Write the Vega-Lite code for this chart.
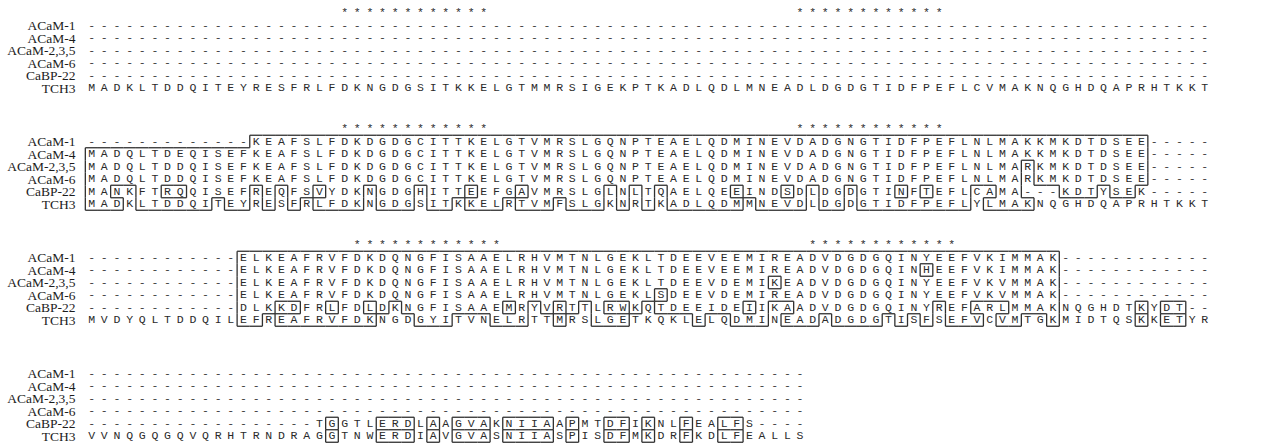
{
"$schema":"https://vega.github.io/schema/vega-lite/v6.json",
"autosize":{"type":"pad"},
"padding":{"left":4,"top":6,"right":0,"bottom":0},
"background":"white",
"bounds":"flush",
"data":{"values":[
{"b":1,"r":0,"c":21},{"b":1,"r":0,"c":22},{"b":1,"r":0,"c":23},{"b":1,"r":0,"c":24},{"b":1,"r":0,"c":25},{"b":1,"r":0,"c":26},{"b":1,"r":0,"c":27},{"b":1,"r":0,"c":28},{"b":1,"r":0,"c":29},{"b":1,"r":0,"c":30},{"b":1,"r":0,"c":31},{"b":1,"r":0,"c":32},
{"b":1,"r":0,"c":57},{"b":1,"r":0,"c":58},{"b":1,"r":0,"c":59},{"b":1,"r":0,"c":60},{"b":1,"r":0,"c":61},{"b":1,"r":0,"c":62},{"b":1,"r":0,"c":63},{"b":1,"r":0,"c":64},{"b":1,"r":0,"c":65},{"b":1,"r":0,"c":66},{"b":1,"r":0,"c":67},{"b":1,"r":0,"c":68},
{"b":1,"r":1,"c":1},{"b":1,"r":1,"c":2},{"b":1,"r":1,"c":3},{"b":1,"r":1,"c":4},{"b":1,"r":1,"c":5},{"b":1,"r":1,"c":6},{"b":1,"r":1,"c":7},{"b":1,"r":1,"c":8},{"b":1,"r":1,"c":9},{"b":1,"r":1,"c":10},
{"b":1,"r":1,"c":11},{"b":1,"r":1,"c":12},{"b":1,"r":1,"c":13},{"b":1,"r":1,"c":14},{"b":1,"r":1,"c":15},{"b":1,"r":1,"c":16},{"b":1,"r":1,"c":17},{"b":1,"r":1,"c":18},{"b":1,"r":1,"c":19},{"b":1,"r":1,"c":20},
{"b":1,"r":1,"c":21},{"b":1,"r":1,"c":22},{"b":1,"r":1,"c":23},{"b":1,"r":1,"c":24},{"b":1,"r":1,"c":25},{"b":1,"r":1,"c":26},{"b":1,"r":1,"c":27},{"b":1,"r":1,"c":28},{"b":1,"r":1,"c":29},{"b":1,"r":1,"c":30},
{"b":1,"r":1,"c":31},{"b":1,"r":1,"c":32},{"b":1,"r":1,"c":33},{"b":1,"r":1,"c":34},{"b":1,"r":1,"c":35},{"b":1,"r":1,"c":36},{"b":1,"r":1,"c":37},{"b":1,"r":1,"c":38},{"b":1,"r":1,"c":39},{"b":1,"r":1,"c":40},
{"b":1,"r":1,"c":41},{"b":1,"r":1,"c":42},{"b":1,"r":1,"c":43},{"b":1,"r":1,"c":44},{"b":1,"r":1,"c":45},{"b":1,"r":1,"c":46},{"b":1,"r":1,"c":47},{"b":1,"r":1,"c":48},{"b":1,"r":1,"c":49},{"b":1,"r":1,"c":50},
{"b":1,"r":1,"c":51},{"b":1,"r":1,"c":52},{"b":1,"r":1,"c":53},{"b":1,"r":1,"c":54},{"b":1,"r":1,"c":55},{"b":1,"r":1,"c":56},{"b":1,"r":1,"c":57},{"b":1,"r":1,"c":58},{"b":1,"r":1,"c":59},{"b":1,"r":1,"c":60},
{"b":1,"r":1,"c":61},{"b":1,"r":1,"c":62},{"b":1,"r":1,"c":63},{"b":1,"r":1,"c":64},{"b":1,"r":1,"c":65},{"b":1,"r":1,"c":66},{"b":1,"r":1,"c":67},{"b":1,"r":1,"c":68},{"b":1,"r":1,"c":69},{"b":1,"r":1,"c":70},
{"b":1,"r":1,"c":71},{"b":1,"r":1,"c":72},{"b":1,"r":1,"c":73},{"b":1,"r":1,"c":74},{"b":1,"r":1,"c":75},{"b":1,"r":1,"c":76},{"b":1,"r":1,"c":77},{"b":1,"r":1,"c":78},{"b":1,"r":1,"c":79},{"b":1,"r":1,"c":80},
{"b":1,"r":1,"c":81},{"b":1,"r":1,"c":82},{"b":1,"r":1,"c":83},{"b":1,"r":1,"c":84},{"b":1,"r":1,"c":85},{"b":1,"r":1,"c":86},{"b":1,"r":1,"c":87},{"b":1,"r":1,"c":88},{"b":1,"r":1,"c":89},
{"b":1,"r":2,"c":1},{"b":1,"r":2,"c":2},{"b":1,"r":2,"c":3},{"b":1,"r":2,"c":4},{"b":1,"r":2,"c":5},{"b":1,"r":2,"c":6},{"b":1,"r":2,"c":7},{"b":1,"r":2,"c":8},{"b":1,"r":2,"c":9},{"b":1,"r":2,"c":10},
{"b":1,"r":2,"c":11},{"b":1,"r":2,"c":12},{"b":1,"r":2,"c":13},{"b":1,"r":2,"c":14},{"b":1,"r":2,"c":15},{"b":1,"r":2,"c":16},{"b":1,"r":2,"c":17},{"b":1,"r":2,"c":18},{"b":1,"r":2,"c":19},{"b":1,"r":2,"c":20},
{"b":1,"r":2,"c":21},{"b":1,"r":2,"c":22},{"b":1,"r":2,"c":23},{"b":1,"r":2,"c":24},{"b":1,"r":2,"c":25},{"b":1,"r":2,"c":26},{"b":1,"r":2,"c":27},{"b":1,"r":2,"c":28},{"b":1,"r":2,"c":29},{"b":1,"r":2,"c":30},
{"b":1,"r":2,"c":31},{"b":1,"r":2,"c":32},{"b":1,"r":2,"c":33},{"b":1,"r":2,"c":34},{"b":1,"r":2,"c":35},{"b":1,"r":2,"c":36},{"b":1,"r":2,"c":37},{"b":1,"r":2,"c":38},{"b":1,"r":2,"c":39},{"b":1,"r":2,"c":40},
{"b":1,"r":2,"c":41},{"b":1,"r":2,"c":42},{"b":1,"r":2,"c":43},{"b":1,"r":2,"c":44},{"b":1,"r":2,"c":45},{"b":1,"r":2,"c":46},{"b":1,"r":2,"c":47},{"b":1,"r":2,"c":48},{"b":1,"r":2,"c":49},{"b":1,"r":2,"c":50},
{"b":1,"r":2,"c":51},{"b":1,"r":2,"c":52},{"b":1,"r":2,"c":53},{"b":1,"r":2,"c":54},{"b":1,"r":2,"c":55},{"b":1,"r":2,"c":56},{"b":1,"r":2,"c":57},{"b":1,"r":2,"c":58},{"b":1,"r":2,"c":59},{"b":1,"r":2,"c":60},
{"b":1,"r":2,"c":61},{"b":1,"r":2,"c":62},{"b":1,"r":2,"c":63},{"b":1,"r":2,"c":64},{"b":1,"r":2,"c":65},{"b":1,"r":2,"c":66},{"b":1,"r":2,"c":67},{"b":1,"r":2,"c":68},{"b":1,"r":2,"c":69},{"b":1,"r":2,"c":70},
{"b":1,"r":2,"c":71},{"b":1,"r":2,"c":72},{"b":1,"r":2,"c":73},{"b":1,"r":2,"c":74},{"b":1,"r":2,"c":75},{"b":1,"r":2,"c":76},{"b":1,"r":2,"c":77},{"b":1,"r":2,"c":78},{"b":1,"r":2,"c":79},{"b":1,"r":2,"c":80},
{"b":1,"r":2,"c":81},{"b":1,"r":2,"c":82},{"b":1,"r":2,"c":83},{"b":1,"r":2,"c":84},{"b":1,"r":2,"c":85},{"b":1,"r":2,"c":86},{"b":1,"r":2,"c":87},{"b":1,"r":2,"c":88},{"b":1,"r":2,"c":89},
{"b":1,"r":3,"c":1},{"b":1,"r":3,"c":2},{"b":1,"r":3,"c":3},{"b":1,"r":3,"c":4},{"b":1,"r":3,"c":5},{"b":1,"r":3,"c":6},{"b":1,"r":3,"c":7},{"b":1,"r":3,"c":8},{"b":1,"r":3,"c":9},{"b":1,"r":3,"c":10},
{"b":1,"r":3,"c":11},{"b":1,"r":3,"c":12},{"b":1,"r":3,"c":13},{"b":1,"r":3,"c":14},{"b":1,"r":3,"c":15},{"b":1,"r":3,"c":16},{"b":1,"r":3,"c":17},{"b":1,"r":3,"c":18},{"b":1,"r":3,"c":19},{"b":1,"r":3,"c":20},
{"b":1,"r":3,"c":21},{"b":1,"r":3,"c":22},{"b":1,"r":3,"c":23},{"b":1,"r":3,"c":24},{"b":1,"r":3,"c":25},{"b":1,"r":3,"c":26},{"b":1,"r":3,"c":27},{"b":1,"r":3,"c":28},{"b":1,"r":3,"c":29},{"b":1,"r":3,"c":30},
{"b":1,"r":3,"c":31},{"b":1,"r":3,"c":32},{"b":1,"r":3,"c":33},{"b":1,"r":3,"c":34},{"b":1,"r":3,"c":35},{"b":1,"r":3,"c":36},{"b":1,"r":3,"c":37},{"b":1,"r":3,"c":38},{"b":1,"r":3,"c":39},{"b":1,"r":3,"c":40},
{"b":1,"r":3,"c":41},{"b":1,"r":3,"c":42},{"b":1,"r":3,"c":43},{"b":1,"r":3,"c":44},{"b":1,"r":3,"c":45},{"b":1,"r":3,"c":46},{"b":1,"r":3,"c":47},{"b":1,"r":3,"c":48},{"b":1,"r":3,"c":49},{"b":1,"r":3,"c":50},
{"b":1,"r":3,"c":51},{"b":1,"r":3,"c":52},{"b":1,"r":3,"c":53},{"b":1,"r":3,"c":54},{"b":1,"r":3,"c":55},{"b":1,"r":3,"c":56},{"b":1,"r":3,"c":57},{"b":1,"r":3,"c":58},{"b":1,"r":3,"c":59},{"b":1,"r":3,"c":60},
{"b":1,"r":3,"c":61},{"b":1,"r":3,"c":62},{"b":1,"r":3,"c":63},{"b":1,"r":3,"c":64},{"b":1,"r":3,"c":65},{"b":1,"r":3,"c":66},{"b":1,"r":3,"c":67},{"b":1,"r":3,"c":68},{"b":1,"r":3,"c":69},{"b":1,"r":3,"c":70},
{"b":1,"r":3,"c":71},{"b":1,"r":3,"c":72},{"b":1,"r":3,"c":73},{"b":1,"r":3,"c":74},{"b":1,"r":3,"c":75},{"b":1,"r":3,"c":76},{"b":1,"r":3,"c":77},{"b":1,"r":3,"c":78},{"b":1,"r":3,"c":79},{"b":1,"r":3,"c":80},
{"b":1,"r":3,"c":81},{"b":1,"r":3,"c":82},{"b":1,"r":3,"c":83},{"b":1,"r":3,"c":84},{"b":1,"r":3,"c":85},{"b":1,"r":3,"c":86},{"b":1,"r":3,"c":87},{"b":1,"r":3,"c":88},{"b":1,"r":3,"c":89},
{"b":1,"r":4,"c":1},{"b":1,"r":4,"c":2},{"b":1,"r":4,"c":3},{"b":1,"r":4,"c":4},{"b":1,"r":4,"c":5},{"b":1,"r":4,"c":6},{"b":1,"r":4,"c":7},{"b":1,"r":4,"c":8},{"b":1,"r":4,"c":9},{"b":1,"r":4,"c":10},
{"b":1,"r":4,"c":11},{"b":1,"r":4,"c":12},{"b":1,"r":4,"c":13},{"b":1,"r":4,"c":14},{"b":1,"r":4,"c":15},{"b":1,"r":4,"c":16},{"b":1,"r":4,"c":17},{"b":1,"r":4,"c":18},{"b":1,"r":4,"c":19},{"b":1,"r":4,"c":20},
{"b":1,"r":4,"c":21},{"b":1,"r":4,"c":22},{"b":1,"r":4,"c":23},{"b":1,"r":4,"c":24},{"b":1,"r":4,"c":25},{"b":1,"r":4,"c":26},{"b":1,"r":4,"c":27},{"b":1,"r":4,"c":28},{"b":1,"r":4,"c":29},{"b":1,"r":4,"c":30},
{"b":1,"r":4,"c":31},{"b":1,"r":4,"c":32},{"b":1,"r":4,"c":33},{"b":1,"r":4,"c":34},{"b":1,"r":4,"c":35},{"b":1,"r":4,"c":36},{"b":1,"r":4,"c":37},{"b":1,"r":4,"c":38},{"b":1,"r":4,"c":39},{"b":1,"r":4,"c":40},
{"b":1,"r":4,"c":41},{"b":1,"r":4,"c":42},{"b":1,"r":4,"c":43},{"b":1,"r":4,"c":44},{"b":1,"r":4,"c":45},{"b":1,"r":4,"c":46},{"b":1,"r":4,"c":47},{"b":1,"r":4,"c":48},{"b":1,"r":4,"c":49},{"b":1,"r":4,"c":50},
{"b":1,"r":4,"c":51},{"b":1,"r":4,"c":52},{"b":1,"r":4,"c":53},{"b":1,"r":4,"c":54},{"b":1,"r":4,"c":55},{"b":1,"r":4,"c":56},{"b":1,"r":4,"c":57},{"b":1,"r":4,"c":58},{"b":1,"r":4,"c":59},{"b":1,"r":4,"c":60},
{"b":1,"r":4,"c":61},{"b":1,"r":4,"c":62},{"b":1,"r":4,"c":63},{"b":1,"r":4,"c":64},{"b":1,"r":4,"c":65},{"b":1,"r":4,"c":66},{"b":1,"r":4,"c":67},{"b":1,"r":4,"c":68},{"b":1,"r":4,"c":69},{"b":1,"r":4,"c":70},
{"b":1,"r":4,"c":71},{"b":1,"r":4,"c":72},{"b":1,"r":4,"c":73},{"b":1,"r":4,"c":74},{"b":1,"r":4,"c":75},{"b":1,"r":4,"c":76},{"b":1,"r":4,"c":77},{"b":1,"r":4,"c":78},{"b":1,"r":4,"c":79},{"b":1,"r":4,"c":80},
{"b":1,"r":4,"c":81},{"b":1,"r":4,"c":82},{"b":1,"r":4,"c":83},{"b":1,"r":4,"c":84},{"b":1,"r":4,"c":85},{"b":1,"r":4,"c":86},{"b":1,"r":4,"c":87},{"b":1,"r":4,"c":88},{"b":1,"r":4,"c":89},
{"b":1,"r":5,"c":1},{"b":1,"r":5,"c":2},{"b":1,"r":5,"c":3},{"b":1,"r":5,"c":4},{"b":1,"r":5,"c":5},{"b":1,"r":5,"c":6},{"b":1,"r":5,"c":7},{"b":1,"r":5,"c":8},{"b":1,"r":5,"c":9},{"b":1,"r":5,"c":10},
{"b":1,"r":5,"c":11},{"b":1,"r":5,"c":12},{"b":1,"r":5,"c":13},{"b":1,"r":5,"c":14},{"b":1,"r":5,"c":15},{"b":1,"r":5,"c":16},{"b":1,"r":5,"c":17},{"b":1,"r":5,"c":18},{"b":1,"r":5,"c":19},{"b":1,"r":5,"c":20},
{"b":1,"r":5,"c":21},{"b":1,"r":5,"c":22},{"b":1,"r":5,"c":23},{"b":1,"r":5,"c":24},{"b":1,"r":5,"c":25},{"b":1,"r":5,"c":26},{"b":1,"r":5,"c":27},{"b":1,"r":5,"c":28},{"b":1,"r":5,"c":29},{"b":1,"r":5,"c":30},
{"b":1,"r":5,"c":31},{"b":1,"r":5,"c":32},{"b":1,"r":5,"c":33},{"b":1,"r":5,"c":34},{"b":1,"r":5,"c":35},{"b":1,"r":5,"c":36},{"b":1,"r":5,"c":37},{"b":1,"r":5,"c":38},{"b":1,"r":5,"c":39},{"b":1,"r":5,"c":40},
{"b":1,"r":5,"c":41},{"b":1,"r":5,"c":42},{"b":1,"r":5,"c":43},{"b":1,"r":5,"c":44},{"b":1,"r":5,"c":45},{"b":1,"r":5,"c":46},{"b":1,"r":5,"c":47},{"b":1,"r":5,"c":48},{"b":1,"r":5,"c":49},{"b":1,"r":5,"c":50},
{"b":1,"r":5,"c":51},{"b":1,"r":5,"c":52},{"b":1,"r":5,"c":53},{"b":1,"r":5,"c":54},{"b":1,"r":5,"c":55},{"b":1,"r":5,"c":56},{"b":1,"r":5,"c":57},{"b":1,"r":5,"c":58},{"b":1,"r":5,"c":59},{"b":1,"r":5,"c":60},
{"b":1,"r":5,"c":61},{"b":1,"r":5,"c":62},{"b":1,"r":5,"c":63},{"b":1,"r":5,"c":64},{"b":1,"r":5,"c":65},{"b":1,"r":5,"c":66},{"b":1,"r":5,"c":67},{"b":1,"r":5,"c":68},{"b":1,"r":5,"c":69},{"b":1,"r":5,"c":70},
{"b":1,"r":5,"c":71},{"b":1,"r":5,"c":72},{"b":1,"r":5,"c":73},{"b":1,"r":5,"c":74},{"b":1,"r":5,"c":75},{"b":1,"r":5,"c":76},{"b":1,"r":5,"c":77},{"b":1,"r":5,"c":78},{"b":1,"r":5,"c":79},{"b":1,"r":5,"c":80},
{"b":1,"r":5,"c":81},{"b":1,"r":5,"c":82},{"b":1,"r":5,"c":83},{"b":1,"r":5,"c":84},{"b":1,"r":5,"c":85},{"b":1,"r":5,"c":86},{"b":1,"r":5,"c":87},{"b":1,"r":5,"c":88},{"b":1,"r":5,"c":89},
{"b":1,"r":6,"c":1,"s":"M"},{"b":1,"r":6,"c":2,"s":"A"},{"b":1,"r":6,"c":3,"s":"D"},{"b":1,"r":6,"c":4,"s":"K"},{"b":1,"r":6,"c":5,"s":"L"},{"b":1,"r":6,"c":6,"s":"T"},{"b":1,"r":6,"c":7,"s":"D"},{"b":1,"r":6,"c":8,"s":"D"},{"b":1,"r":6,"c":9,"s":"Q"},{"b":1,"r":6,"c":10,"s":"I"},
{"b":1,"r":6,"c":11,"s":"T"},{"b":1,"r":6,"c":12,"s":"E"},{"b":1,"r":6,"c":13,"s":"Y"},{"b":1,"r":6,"c":14,"s":"R"},{"b":1,"r":6,"c":15,"s":"E"},{"b":1,"r":6,"c":16,"s":"S"},{"b":1,"r":6,"c":17,"s":"F"},{"b":1,"r":6,"c":18,"s":"R"},{"b":1,"r":6,"c":19,"s":"L"},{"b":1,"r":6,"c":20,"s":"F"},
{"b":1,"r":6,"c":21,"s":"D"},{"b":1,"r":6,"c":22,"s":"K"},{"b":1,"r":6,"c":23,"s":"N"},{"b":1,"r":6,"c":24,"s":"G"},{"b":1,"r":6,"c":25,"s":"D"},{"b":1,"r":6,"c":26,"s":"G"},{"b":1,"r":6,"c":27,"s":"S"},{"b":1,"r":6,"c":28,"s":"I"},{"b":1,"r":6,"c":29,"s":"T"},{"b":1,"r":6,"c":30,"s":"K"},
{"b":1,"r":6,"c":31,"s":"K"},{"b":1,"r":6,"c":32,"s":"E"},{"b":1,"r":6,"c":33,"s":"L"},{"b":1,"r":6,"c":34,"s":"G"},{"b":1,"r":6,"c":35,"s":"T"},{"b":1,"r":6,"c":36,"s":"M"},{"b":1,"r":6,"c":37,"s":"M"},{"b":1,"r":6,"c":38,"s":"R"},{"b":1,"r":6,"c":39,"s":"S"},{"b":1,"r":6,"c":40,"s":"I"},
{"b":1,"r":6,"c":41,"s":"G"},{"b":1,"r":6,"c":42,"s":"E"},{"b":1,"r":6,"c":43,"s":"K"},{"b":1,"r":6,"c":44,"s":"P"},{"b":1,"r":6,"c":45,"s":"T"},{"b":1,"r":6,"c":46,"s":"K"},{"b":1,"r":6,"c":47,"s":"A"},{"b":1,"r":6,"c":48,"s":"D"},{"b":1,"r":6,"c":49,"s":"L"},{"b":1,"r":6,"c":50,"s":"Q"},
{"b":1,"r":6,"c":51,"s":"D"},{"b":1,"r":6,"c":52,"s":"L"},{"b":1,"r":6,"c":53,"s":"M"},{"b":1,"r":6,"c":54,"s":"N"},{"b":1,"r":6,"c":55,"s":"E"},{"b":1,"r":6,"c":56,"s":"A"},{"b":1,"r":6,"c":57,"s":"D"},{"b":1,"r":6,"c":58,"s":"L"},{"b":1,"r":6,"c":59,"s":"D"},{"b":1,"r":6,"c":60,"s":"G"},
{"b":1,"r":6,"c":61,"s":"D"},{"b":1,"r":6,"c":62,"s":"G"},{"b":1,"r":6,"c":63,"s":"T"},{"b":1,"r":6,"c":64,"s":"I"},{"b":1,"r":6,"c":65,"s":"D"},{"b":1,"r":6,"c":66,"s":"F"},{"b":1,"r":6,"c":67,"s":"P"},{"b":1,"r":6,"c":68,"s":"E"},{"b":1,"r":6,"c":69,"s":"F"},{"b":1,"r":6,"c":70,"s":"L"},
{"b":1,"r":6,"c":71,"s":"C"},{"b":1,"r":6,"c":72,"s":"V"},{"b":1,"r":6,"c":73,"s":"M"},{"b":1,"r":6,"c":74,"s":"A"},{"b":1,"r":6,"c":75,"s":"K"},{"b":1,"r":6,"c":76,"s":"N"},{"b":1,"r":6,"c":77,"s":"Q"},{"b":1,"r":6,"c":78,"s":"G"},{"b":1,"r":6,"c":79,"s":"H"},{"b":1,"r":6,"c":80,"s":"D"},
{"b":1,"r":6,"c":81,"s":"Q"},{"b":1,"r":6,"c":82,"s":"A"},{"b":1,"r":6,"c":83,"s":"P"},{"b":1,"r":6,"c":84,"s":"R"},{"b":1,"r":6,"c":85,"s":"H"},{"b":1,"r":6,"c":86,"s":"T"},{"b":1,"r":6,"c":87,"s":"K"},{"b":1,"r":6,"c":88,"s":"K"},{"b":1,"r":6,"c":89,"s":"T"},
{"b":1,"r":1,"n":"0"},{"b":1,"r":2,"n":"0"},{"b":1,"r":3,"n":"0"},{"b":1,"r":4,"n":"0"},{"b":1,"r":5,"n":"0"},{"b":1,"r":6,"n":"89"},

{"b":2,"r":0,"c":21},{"b":2,"r":0,"c":22},{"b":2,"r":0,"c":23},{"b":2,"r":0,"c":24},{"b":2,"r":0,"c":25},{"b":2,"r":0,"c":26},{"b":2,"r":0,"c":27},{"b":2,"r":0,"c":28},{"b":2,"r":0,"c":29},{"b":2,"r":0,"c":30},{"b":2,"r":0,"c":31},{"b":2,"r":0,"c":32},
{"b":2,"r":0,"c":57},{"b":2,"r":0,"c":58},{"b":2,"r":0,"c":59},{"b":2,"r":0,"c":60},{"b":2,"r":0,"c":61},{"b":2,"r":0,"c":62},{"b":2,"r":0,"c":63},{"b":2,"r":0,"c":64},{"b":2,"r":0,"c":65},{"b":2,"r":0,"c":66},{"b":2,"r":0,"c":67},{"b":2,"r":0,"c":68},
{"b":2,"r":1,"c":1},{"b":2,"r":1,"c":2},{"b":2,"r":1,"c":3},{"b":2,"r":1,"c":4},{"b":2,"r":1,"c":5},{"b":2,"r":1,"c":6},{"b":2,"r":1,"c":7},{"b":2,"r":1,"c":8},{"b":2,"r":1,"c":9},{"b":2,"r":1,"c":10},{"b":2,"r":1,"c":11},{"b":2,"r":1,"c":12},{"b":2,"r":1,"c":13},
{"b":2,"r":1,"c":14,"s":"K","g":1},{"b":2,"r":1,"c":15,"s":"E","g":1},{"b":2,"r":1,"c":16,"s":"A","g":1},{"b":2,"r":1,"c":17,"s":"F","g":1},{"b":2,"r":1,"c":18,"s":"S","g":1},{"b":2,"r":1,"c":19,"s":"L","g":1},{"b":2,"r":1,"c":20,"s":"F","g":1},
{"b":2,"r":1,"c":21,"s":"D","g":1},{"b":2,"r":1,"c":22,"s":"K","g":1},{"b":2,"r":1,"c":23,"s":"D","g":1},{"b":2,"r":1,"c":24,"s":"G","g":1},{"b":2,"r":1,"c":25,"s":"D","g":1},{"b":2,"r":1,"c":26,"s":"G","g":1},{"b":2,"r":1,"c":27,"s":"C","g":1},{"b":2,"r":1,"c":28,"s":"I","g":1},{"b":2,"r":1,"c":29,"s":"T","g":1},{"b":2,"r":1,"c":30,"s":"T","g":1},
{"b":2,"r":1,"c":31,"s":"K","g":1},{"b":2,"r":1,"c":32,"s":"E","g":1},{"b":2,"r":1,"c":33,"s":"L","g":1},{"b":2,"r":1,"c":34,"s":"G","g":1},{"b":2,"r":1,"c":35,"s":"T","g":1},{"b":2,"r":1,"c":36,"s":"V","g":1},{"b":2,"r":1,"c":37,"s":"M","g":1},{"b":2,"r":1,"c":38,"s":"R","g":1},{"b":2,"r":1,"c":39,"s":"S","g":1},{"b":2,"r":1,"c":40,"s":"L","g":1},
{"b":2,"r":1,"c":41,"s":"G","g":1},{"b":2,"r":1,"c":42,"s":"Q","g":1},{"b":2,"r":1,"c":43,"s":"N","g":1},{"b":2,"r":1,"c":44,"s":"P","g":1},{"b":2,"r":1,"c":45,"s":"T","g":1},{"b":2,"r":1,"c":46,"s":"E","g":1},{"b":2,"r":1,"c":47,"s":"A","g":1},{"b":2,"r":1,"c":48,"s":"E","g":1},{"b":2,"r":1,"c":49,"s":"L","g":1},{"b":2,"r":1,"c":50,"s":"Q","g":1},
{"b":2,"r":1,"c":51,"s":"D","g":1},{"b":2,"r":1,"c":52,"s":"M","g":1},{"b":2,"r":1,"c":53,"s":"I","g":1},{"b":2,"r":1,"c":54,"s":"N","g":1},{"b":2,"r":1,"c":55,"s":"E","g":1},{"b":2,"r":1,"c":56,"s":"V","g":1},{"b":2,"r":1,"c":57,"s":"D","g":1},{"b":2,"r":1,"c":58,"s":"A","g":1},{"b":2,"r":1,"c":59,"s":"D","g":1},{"b":2,"r":1,"c":60,"s":"G","g":1},
{"b":2,"r":1,"c":61,"s":"N","g":1},{"b":2,"r":1,"c":62,"s":"G","g":1},{"b":2,"r":1,"c":63,"s":"T","g":1},{"b":2,"r":1,"c":64,"s":"I","g":1},{"b":2,"r":1,"c":65,"s":"D","g":1},{"b":2,"r":1,"c":66,"s":"F","g":1},{"b":2,"r":1,"c":67,"s":"P","g":1},{"b":2,"r":1,"c":68,"s":"E","g":1},{"b":2,"r":1,"c":69,"s":"F","g":1},{"b":2,"r":1,"c":70,"s":"L","g":1},
{"b":2,"r":1,"c":71,"s":"N","g":1},{"b":2,"r":1,"c":72,"s":"L","g":1},{"b":2,"r":1,"c":73,"s":"M","g":1},{"b":2,"r":1,"c":74,"s":"A","g":1},{"b":2,"r":1,"c":75,"s":"K","g":1},{"b":2,"r":1,"c":76,"s":"K","g":1},{"b":2,"r":1,"c":77,"s":"M","g":1},{"b":2,"r":1,"c":78,"s":"K","g":1},{"b":2,"r":1,"c":79,"s":"D","g":1},{"b":2,"r":1,"c":80,"s":"T","g":1},
{"b":2,"r":1,"c":81,"s":"D","g":1},{"b":2,"r":1,"c":82,"s":"S","g":1},{"b":2,"r":1,"c":83,"s":"E","g":1},{"b":2,"r":1,"c":84,"s":"E","g":1},{"b":2,"r":1,"c":85},{"b":2,"r":1,"c":86},{"b":2,"r":1,"c":87},{"b":2,"r":1,"c":88},{"b":2,"r":1,"c":89},
{"b":2,"r":2,"c":1,"s":"M","g":1},{"b":2,"r":2,"c":2,"s":"A","g":1},{"b":2,"r":2,"c":3,"s":"D","g":1},{"b":2,"r":2,"c":4,"s":"Q","g":1},{"b":2,"r":2,"c":5,"s":"L","g":1},{"b":2,"r":2,"c":6,"s":"T","g":1},{"b":2,"r":2,"c":7,"s":"D","g":1},{"b":2,"r":2,"c":8,"s":"E","g":1},{"b":2,"r":2,"c":9,"s":"Q","g":1},{"b":2,"r":2,"c":10,"s":"I","g":1},
{"b":2,"r":2,"c":11,"s":"S","g":1},{"b":2,"r":2,"c":12,"s":"E","g":1},{"b":2,"r":2,"c":13,"s":"F","g":1},{"b":2,"r":2,"c":14,"s":"K","g":1},{"b":2,"r":2,"c":15,"s":"E","g":1},{"b":2,"r":2,"c":16,"s":"A","g":1},{"b":2,"r":2,"c":17,"s":"F","g":1},{"b":2,"r":2,"c":18,"s":"S","g":1},{"b":2,"r":2,"c":19,"s":"L","g":1},{"b":2,"r":2,"c":20,"s":"F","g":1},
{"b":2,"r":2,"c":21,"s":"D","g":1},{"b":2,"r":2,"c":22,"s":"K","g":1},{"b":2,"r":2,"c":23,"s":"D","g":1},{"b":2,"r":2,"c":24,"s":"G","g":1},{"b":2,"r":2,"c":25,"s":"D","g":1},{"b":2,"r":2,"c":26,"s":"G","g":1},{"b":2,"r":2,"c":27,"s":"C","g":1},{"b":2,"r":2,"c":28,"s":"I","g":1},{"b":2,"r":2,"c":29,"s":"T","g":1},{"b":2,"r":2,"c":30,"s":"T","g":1},
{"b":2,"r":2,"c":31,"s":"K","g":1},{"b":2,"r":2,"c":32,"s":"E","g":1},{"b":2,"r":2,"c":33,"s":"L","g":1},{"b":2,"r":2,"c":34,"s":"G","g":1},{"b":2,"r":2,"c":35,"s":"T","g":1},{"b":2,"r":2,"c":36,"s":"V","g":1},{"b":2,"r":2,"c":37,"s":"M","g":1},{"b":2,"r":2,"c":38,"s":"R","g":1},{"b":2,"r":2,"c":39,"s":"S","g":1},{"b":2,"r":2,"c":40,"s":"L","g":1},
{"b":2,"r":2,"c":41,"s":"G","g":1},{"b":2,"r":2,"c":42,"s":"Q","g":1},{"b":2,"r":2,"c":43,"s":"N","g":1},{"b":2,"r":2,"c":44,"s":"P","g":1},{"b":2,"r":2,"c":45,"s":"T","g":1},{"b":2,"r":2,"c":46,"s":"E","g":1},{"b":2,"r":2,"c":47,"s":"A","g":1},{"b":2,"r":2,"c":48,"s":"E","g":1},{"b":2,"r":2,"c":49,"s":"L","g":1},{"b":2,"r":2,"c":50,"s":"Q","g":1},
{"b":2,"r":2,"c":51,"s":"D","g":1},{"b":2,"r":2,"c":52,"s":"M","g":1},{"b":2,"r":2,"c":53,"s":"I","g":1},{"b":2,"r":2,"c":54,"s":"N","g":1},{"b":2,"r":2,"c":55,"s":"E","g":1},{"b":2,"r":2,"c":56,"s":"V","g":1},{"b":2,"r":2,"c":57,"s":"D","g":1},{"b":2,"r":2,"c":58,"s":"A","g":1},{"b":2,"r":2,"c":59,"s":"D","g":1},{"b":2,"r":2,"c":60,"s":"G","g":1},
{"b":2,"r":2,"c":61,"s":"N","g":1},{"b":2,"r":2,"c":62,"s":"G","g":1},{"b":2,"r":2,"c":63,"s":"T","g":1},{"b":2,"r":2,"c":64,"s":"I","g":1},{"b":2,"r":2,"c":65,"s":"D","g":1},{"b":2,"r":2,"c":66,"s":"F","g":1},{"b":2,"r":2,"c":67,"s":"P","g":1},{"b":2,"r":2,"c":68,"s":"E","g":1},{"b":2,"r":2,"c":69,"s":"F","g":1},{"b":2,"r":2,"c":70,"s":"L","g":1},
{"b":2,"r":2,"c":71,"s":"N","g":1},{"b":2,"r":2,"c":72,"s":"L","g":1},{"b":2,"r":2,"c":73,"s":"M","g":1},{"b":2,"r":2,"c":74,"s":"A","g":1},{"b":2,"r":2,"c":75,"s":"K","g":1},{"b":2,"r":2,"c":76,"s":"K","g":1},{"b":2,"r":2,"c":77,"s":"M","g":1},{"b":2,"r":2,"c":78,"s":"K","g":1},{"b":2,"r":2,"c":79,"s":"D","g":1},{"b":2,"r":2,"c":80,"s":"T","g":1},
{"b":2,"r":2,"c":81,"s":"D","g":1},{"b":2,"r":2,"c":82,"s":"S","g":1},{"b":2,"r":2,"c":83,"s":"E","g":1},{"b":2,"r":2,"c":84,"s":"E","g":1},{"b":2,"r":2,"c":85},{"b":2,"r":2,"c":86},{"b":2,"r":2,"c":87},{"b":2,"r":2,"c":88},{"b":2,"r":2,"c":89},
{"b":2,"r":3,"c":1,"s":"M","g":1},{"b":2,"r":3,"c":2,"s":"A","g":1},{"b":2,"r":3,"c":3,"s":"D","g":1},{"b":2,"r":3,"c":4,"s":"Q","g":1},{"b":2,"r":3,"c":5,"s":"L","g":1},{"b":2,"r":3,"c":6,"s":"T","g":1},{"b":2,"r":3,"c":7,"s":"D","g":1},{"b":2,"r":3,"c":8,"s":"D","g":1},{"b":2,"r":3,"c":9,"s":"Q","g":1},{"b":2,"r":3,"c":10,"s":"I","g":1},
{"b":2,"r":3,"c":11,"s":"S","g":1},{"b":2,"r":3,"c":12,"s":"E","g":1},{"b":2,"r":3,"c":13,"s":"F","g":1},{"b":2,"r":3,"c":14,"s":"K","g":1},{"b":2,"r":3,"c":15,"s":"E","g":1},{"b":2,"r":3,"c":16,"s":"A","g":1},{"b":2,"r":3,"c":17,"s":"F","g":1},{"b":2,"r":3,"c":18,"s":"S","g":1},{"b":2,"r":3,"c":19,"s":"L","g":1},{"b":2,"r":3,"c":20,"s":"F","g":1},
{"b":2,"r":3,"c":21,"s":"D","g":1},{"b":2,"r":3,"c":22,"s":"K","g":1},{"b":2,"r":3,"c":23,"s":"D","g":1},{"b":2,"r":3,"c":24,"s":"G","g":1},{"b":2,"r":3,"c":25,"s":"D","g":1},{"b":2,"r":3,"c":26,"s":"G","g":1},{"b":2,"r":3,"c":27,"s":"C","g":1},{"b":2,"r":3,"c":28,"s":"I","g":1},{"b":2,"r":3,"c":29,"s":"T","g":1},{"b":2,"r":3,"c":30,"s":"T","g":1},
{"b":2,"r":3,"c":31,"s":"K","g":1},{"b":2,"r":3,"c":32,"s":"E","g":1},{"b":2,"r":3,"c":33,"s":"L","g":1},{"b":2,"r":3,"c":34,"s":"G","g":1},{"b":2,"r":3,"c":35,"s":"T","g":1},{"b":2,"r":3,"c":36,"s":"V","g":1},{"b":2,"r":3,"c":37,"s":"M","g":1},{"b":2,"r":3,"c":38,"s":"R","g":1},{"b":2,"r":3,"c":39,"s":"S","g":1},{"b":2,"r":3,"c":40,"s":"L","g":1},
{"b":2,"r":3,"c":41,"s":"G","g":1},{"b":2,"r":3,"c":42,"s":"Q","g":1},{"b":2,"r":3,"c":43,"s":"N","g":1},{"b":2,"r":3,"c":44,"s":"P","g":1},{"b":2,"r":3,"c":45,"s":"T","g":1},{"b":2,"r":3,"c":46,"s":"E","g":1},{"b":2,"r":3,"c":47,"s":"A","g":1},{"b":2,"r":3,"c":48,"s":"E","g":1},{"b":2,"r":3,"c":49,"s":"L","g":1},{"b":2,"r":3,"c":50,"s":"Q","g":1},
{"b":2,"r":3,"c":51,"s":"D","g":1},{"b":2,"r":3,"c":52,"s":"M","g":1},{"b":2,"r":3,"c":53,"s":"I","g":1},{"b":2,"r":3,"c":54,"s":"N","g":1},{"b":2,"r":3,"c":55,"s":"E","g":1},{"b":2,"r":3,"c":56,"s":"V","g":1},{"b":2,"r":3,"c":57,"s":"D","g":1},{"b":2,"r":3,"c":58,"s":"A","g":1},{"b":2,"r":3,"c":59,"s":"D","g":1},{"b":2,"r":3,"c":60,"s":"G","g":1},
{"b":2,"r":3,"c":61,"s":"N","g":1},{"b":2,"r":3,"c":62,"s":"G","g":1},{"b":2,"r":3,"c":63,"s":"T","g":1},{"b":2,"r":3,"c":64,"s":"I","g":1},{"b":2,"r":3,"c":65,"s":"D","g":1},{"b":2,"r":3,"c":66,"s":"F","g":1},{"b":2,"r":3,"c":67,"s":"P","g":1},{"b":2,"r":3,"c":68,"s":"E","g":1},{"b":2,"r":3,"c":69,"s":"F","g":1},{"b":2,"r":3,"c":70,"s":"L","g":1},
{"b":2,"r":3,"c":71,"s":"N","g":1},{"b":2,"r":3,"c":72,"s":"L","g":1},{"b":2,"r":3,"c":73,"s":"M","g":1},{"b":2,"r":3,"c":74,"s":"A","g":1},{"b":2,"r":3,"c":75,"s":"R"},{"b":2,"r":3,"c":76,"s":"K","g":1},{"b":2,"r":3,"c":77,"s":"M","g":1},{"b":2,"r":3,"c":78,"s":"K","g":1},{"b":2,"r":3,"c":79,"s":"D","g":1},{"b":2,"r":3,"c":80,"s":"T","g":1},
{"b":2,"r":3,"c":81,"s":"D","g":1},{"b":2,"r":3,"c":82,"s":"S","g":1},{"b":2,"r":3,"c":83,"s":"E","g":1},{"b":2,"r":3,"c":84,"s":"E","g":1},{"b":2,"r":3,"c":85},{"b":2,"r":3,"c":86},{"b":2,"r":3,"c":87},{"b":2,"r":3,"c":88},{"b":2,"r":3,"c":89},
{"b":2,"r":4,"c":1,"s":"M","g":1},{"b":2,"r":4,"c":2,"s":"A","g":1},{"b":2,"r":4,"c":3,"s":"D","g":1},{"b":2,"r":4,"c":4,"s":"Q","g":1},{"b":2,"r":4,"c":5,"s":"L","g":1},{"b":2,"r":4,"c":6,"s":"T","g":1},{"b":2,"r":4,"c":7,"s":"D","g":1},{"b":2,"r":4,"c":8,"s":"D","g":1},{"b":2,"r":4,"c":9,"s":"Q","g":1},{"b":2,"r":4,"c":10,"s":"I","g":1},
{"b":2,"r":4,"c":11,"s":"S","g":1},{"b":2,"r":4,"c":12,"s":"E","g":1},{"b":2,"r":4,"c":13,"s":"F","g":1},{"b":2,"r":4,"c":14,"s":"K","g":1},{"b":2,"r":4,"c":15,"s":"E","g":1},{"b":2,"r":4,"c":16,"s":"A","g":1},{"b":2,"r":4,"c":17,"s":"F","g":1},{"b":2,"r":4,"c":18,"s":"S","g":1},{"b":2,"r":4,"c":19,"s":"L","g":1},{"b":2,"r":4,"c":20,"s":"F","g":1},
{"b":2,"r":4,"c":21,"s":"D","g":1},{"b":2,"r":4,"c":22,"s":"K","g":1},{"b":2,"r":4,"c":23,"s":"D","g":1},{"b":2,"r":4,"c":24,"s":"G","g":1},{"b":2,"r":4,"c":25,"s":"D","g":1},{"b":2,"r":4,"c":26,"s":"G","g":1},{"b":2,"r":4,"c":27,"s":"C","g":1},{"b":2,"r":4,"c":28,"s":"I","g":1},{"b":2,"r":4,"c":29,"s":"T","g":1},{"b":2,"r":4,"c":30,"s":"T","g":1},
{"b":2,"r":4,"c":31,"s":"K","g":1},{"b":2,"r":4,"c":32,"s":"E","g":1},{"b":2,"r":4,"c":33,"s":"L","g":1},{"b":2,"r":4,"c":34,"s":"G","g":1},{"b":2,"r":4,"c":35,"s":"T","g":1},{"b":2,"r":4,"c":36,"s":"V","g":1},{"b":2,"r":4,"c":37,"s":"M","g":1},{"b":2,"r":4,"c":38,"s":"R","g":1},{"b":2,"r":4,"c":39,"s":"S","g":1},{"b":2,"r":4,"c":40,"s":"L","g":1},
{"b":2,"r":4,"c":41,"s":"G","g":1},{"b":2,"r":4,"c":42,"s":"Q","g":1},{"b":2,"r":4,"c":43,"s":"N","g":1},{"b":2,"r":4,"c":44,"s":"P","g":1},{"b":2,"r":4,"c":45,"s":"T","g":1},{"b":2,"r":4,"c":46,"s":"E","g":1},{"b":2,"r":4,"c":47,"s":"A","g":1},{"b":2,"r":4,"c":48,"s":"E","g":1},{"b":2,"r":4,"c":49,"s":"L","g":1},{"b":2,"r":4,"c":50,"s":"Q","g":1},
{"b":2,"r":4,"c":51,"s":"D","g":1},{"b":2,"r":4,"c":52,"s":"M","g":1},{"b":2,"r":4,"c":53,"s":"I","g":1},{"b":2,"r":4,"c":54,"s":"N","g":1},{"b":2,"r":4,"c":55,"s":"E","g":1},{"b":2,"r":4,"c":56,"s":"V","g":1},{"b":2,"r":4,"c":57,"s":"D","g":1},{"b":2,"r":4,"c":58,"s":"A","g":1},{"b":2,"r":4,"c":59,"s":"D","g":1},{"b":2,"r":4,"c":60,"s":"G","g":1},
{"b":2,"r":4,"c":61,"s":"N","g":1},{"b":2,"r":4,"c":62,"s":"G","g":1},{"b":2,"r":4,"c":63,"s":"T","g":1},{"b":2,"r":4,"c":64,"s":"I","g":1},{"b":2,"r":4,"c":65,"s":"D","g":1},{"b":2,"r":4,"c":66,"s":"F","g":1},{"b":2,"r":4,"c":67,"s":"P","g":1},{"b":2,"r":4,"c":68,"s":"E","g":1},{"b":2,"r":4,"c":69,"s":"F","g":1},{"b":2,"r":4,"c":70,"s":"L","g":1},
{"b":2,"r":4,"c":71,"s":"N","g":1},{"b":2,"r":4,"c":72,"s":"L","g":1},{"b":2,"r":4,"c":73,"s":"M","g":1},{"b":2,"r":4,"c":74,"s":"A","g":1},{"b":2,"r":4,"c":75,"s":"R"},{"b":2,"r":4,"c":76,"s":"K","g":1},{"b":2,"r":4,"c":77,"s":"M","g":1},{"b":2,"r":4,"c":78,"s":"K","g":1},{"b":2,"r":4,"c":79,"s":"D","g":1},{"b":2,"r":4,"c":80,"s":"T","g":1},
{"b":2,"r":4,"c":81,"s":"D","g":1},{"b":2,"r":4,"c":82,"s":"S","g":1},{"b":2,"r":4,"c":83,"s":"E","g":1},{"b":2,"r":4,"c":84,"s":"E","g":1},{"b":2,"r":4,"c":85},{"b":2,"r":4,"c":86},{"b":2,"r":4,"c":87},{"b":2,"r":4,"c":88},{"b":2,"r":4,"c":89},
{"b":2,"r":5,"c":1,"s":"M","g":1},{"b":2,"r":5,"c":2,"s":"A","g":1},{"b":2,"r":5,"c":3,"s":"N"},{"b":2,"r":5,"c":4,"s":"K"},{"b":2,"r":5,"c":5,"s":"F","g":1},{"b":2,"r":5,"c":6,"s":"T","g":1},{"b":2,"r":5,"c":7,"s":"R"},{"b":2,"r":5,"c":8,"s":"Q"},{"b":2,"r":5,"c":9,"s":"Q","g":1},{"b":2,"r":5,"c":10,"s":"I","g":1},
{"b":2,"r":5,"c":11,"s":"S","g":1},{"b":2,"r":5,"c":12,"s":"E","g":1},{"b":2,"r":5,"c":13,"s":"F","g":1},{"b":2,"r":5,"c":14,"s":"R"},{"b":2,"r":5,"c":15,"s":"E","g":1},{"b":2,"r":5,"c":16,"s":"Q"},{"b":2,"r":5,"c":17,"s":"F","g":1},{"b":2,"r":5,"c":18,"s":"S","g":1},{"b":2,"r":5,"c":19,"s":"V"},{"b":2,"r":5,"c":20,"s":"Y","g":1},
{"b":2,"r":5,"c":21,"s":"D","g":1},{"b":2,"r":5,"c":22,"s":"K","g":1},{"b":2,"r":5,"c":23,"s":"N"},{"b":2,"r":5,"c":24,"s":"G","g":1},{"b":2,"r":5,"c":25,"s":"D","g":1},{"b":2,"r":5,"c":26,"s":"G","g":1},{"b":2,"r":5,"c":27,"s":"H"},{"b":2,"r":5,"c":28,"s":"I","g":1},{"b":2,"r":5,"c":29,"s":"T","g":1},{"b":2,"r":5,"c":30,"s":"T","g":1},
{"b":2,"r":5,"c":31,"s":"E"},{"b":2,"r":5,"c":32,"s":"E","g":1},{"b":2,"r":5,"c":33,"s":"F","g":1},{"b":2,"r":5,"c":34,"s":"G","g":1},{"b":2,"r":5,"c":35,"s":"A"},{"b":2,"r":5,"c":36,"s":"V","g":1},{"b":2,"r":5,"c":37,"s":"M","g":1},{"b":2,"r":5,"c":38,"s":"R","g":1},{"b":2,"r":5,"c":39,"s":"S","g":1},{"b":2,"r":5,"c":40,"s":"L","g":1},
{"b":2,"r":5,"c":41,"s":"G","g":1},{"b":2,"r":5,"c":42,"s":"L"},{"b":2,"r":5,"c":43,"s":"N","g":1},{"b":2,"r":5,"c":44,"s":"L"},{"b":2,"r":5,"c":45,"s":"T","g":1},{"b":2,"r":5,"c":46,"s":"Q"},{"b":2,"r":5,"c":47,"s":"A","g":1},{"b":2,"r":5,"c":48,"s":"E","g":1},{"b":2,"r":5,"c":49,"s":"L","g":1},{"b":2,"r":5,"c":50,"s":"Q","g":1},
{"b":2,"r":5,"c":51,"s":"E","g":1},{"b":2,"r":5,"c":52,"s":"E"},{"b":2,"r":5,"c":53,"s":"I","g":1},{"b":2,"r":5,"c":54,"s":"N","g":1},{"b":2,"r":5,"c":55,"s":"D","g":1},{"b":2,"r":5,"c":56,"s":"S"},{"b":2,"r":5,"c":57,"s":"D","g":1},{"b":2,"r":5,"c":58,"s":"L"},{"b":2,"r":5,"c":59,"s":"D","g":1},{"b":2,"r":5,"c":60,"s":"G","g":1},
{"b":2,"r":5,"c":61,"s":"D"},{"b":2,"r":5,"c":62,"s":"G","g":1},{"b":2,"r":5,"c":63,"s":"T","g":1},{"b":2,"r":5,"c":64,"s":"I","g":1},{"b":2,"r":5,"c":65,"s":"N"},{"b":2,"r":5,"c":66,"s":"F","g":1},{"b":2,"r":5,"c":67,"s":"T"},{"b":2,"r":5,"c":68,"s":"E","g":1},{"b":2,"r":5,"c":69,"s":"F","g":1},{"b":2,"r":5,"c":70,"s":"L","g":1},
{"b":2,"r":5,"c":71,"s":"C"},{"b":2,"r":5,"c":72,"s":"A"},{"b":2,"r":5,"c":73,"s":"M","g":1},{"b":2,"r":5,"c":74,"s":"A","g":1},{"b":2,"r":5,"c":75},{"b":2,"r":5,"c":76},{"b":2,"r":5,"c":77},{"b":2,"r":5,"c":78,"s":"K","g":1},{"b":2,"r":5,"c":79,"s":"D","g":1},{"b":2,"r":5,"c":80,"s":"T","g":1},
{"b":2,"r":5,"c":81,"s":"Y"},{"b":2,"r":5,"c":82,"s":"S","g":1},{"b":2,"r":5,"c":83,"s":"E","g":1},{"b":2,"r":5,"c":84,"s":"K"},{"b":2,"r":5,"c":85},{"b":2,"r":5,"c":86},{"b":2,"r":5,"c":87},{"b":2,"r":5,"c":88},{"b":2,"r":5,"c":89},
{"b":2,"r":6,"c":1,"s":"M","g":1},{"b":2,"r":6,"c":2,"s":"A","g":1},{"b":2,"r":6,"c":3,"s":"D","g":1},{"b":2,"r":6,"c":4,"s":"K"},{"b":2,"r":6,"c":5,"s":"L","g":1},{"b":2,"r":6,"c":6,"s":"T","g":1},{"b":2,"r":6,"c":7,"s":"D","g":1},{"b":2,"r":6,"c":8,"s":"D","g":1},{"b":2,"r":6,"c":9,"s":"Q","g":1},{"b":2,"r":6,"c":10,"s":"I","g":1},
{"b":2,"r":6,"c":11,"s":"T"},{"b":2,"r":6,"c":12,"s":"E","g":1},{"b":2,"r":6,"c":13,"s":"Y","g":1},{"b":2,"r":6,"c":14,"s":"R"},{"b":2,"r":6,"c":15,"s":"E","g":1},{"b":2,"r":6,"c":16,"s":"S"},{"b":2,"r":6,"c":17,"s":"F","g":1},{"b":2,"r":6,"c":18,"s":"R"},{"b":2,"r":6,"c":19,"s":"L","g":1},{"b":2,"r":6,"c":20,"s":"F","g":1},
{"b":2,"r":6,"c":21,"s":"D","g":1},{"b":2,"r":6,"c":22,"s":"K","g":1},{"b":2,"r":6,"c":23,"s":"N"},{"b":2,"r":6,"c":24,"s":"G","g":1},{"b":2,"r":6,"c":25,"s":"D","g":1},{"b":2,"r":6,"c":26,"s":"G","g":1},{"b":2,"r":6,"c":27,"s":"S"},{"b":2,"r":6,"c":28,"s":"I","g":1},{"b":2,"r":6,"c":29,"s":"T","g":1},{"b":2,"r":6,"c":30,"s":"K"},
{"b":2,"r":6,"c":31,"s":"K","g":1},{"b":2,"r":6,"c":32,"s":"E","g":1},{"b":2,"r":6,"c":33,"s":"L","g":1},{"b":2,"r":6,"c":34,"s":"R"},{"b":2,"r":6,"c":35,"s":"T","g":1},{"b":2,"r":6,"c":36,"s":"V","g":1},{"b":2,"r":6,"c":37,"s":"M","g":1},{"b":2,"r":6,"c":38,"s":"F"},{"b":2,"r":6,"c":39,"s":"S","g":1},{"b":2,"r":6,"c":40,"s":"L","g":1},
{"b":2,"r":6,"c":41,"s":"G","g":1},{"b":2,"r":6,"c":42,"s":"K"},{"b":2,"r":6,"c":43,"s":"N","g":1},{"b":2,"r":6,"c":44,"s":"R"},{"b":2,"r":6,"c":45,"s":"T","g":1},{"b":2,"r":6,"c":46,"s":"K"},{"b":2,"r":6,"c":47,"s":"A","g":1},{"b":2,"r":6,"c":48,"s":"D","g":1},{"b":2,"r":6,"c":49,"s":"L","g":1},{"b":2,"r":6,"c":50,"s":"Q","g":1},
{"b":2,"r":6,"c":51,"s":"D","g":1},{"b":2,"r":6,"c":52,"s":"M","g":1},{"b":2,"r":6,"c":53,"s":"M"},{"b":2,"r":6,"c":54,"s":"N","g":1},{"b":2,"r":6,"c":55,"s":"E","g":1},{"b":2,"r":6,"c":56,"s":"V","g":1},{"b":2,"r":6,"c":57,"s":"D","g":1},{"b":2,"r":6,"c":58,"s":"L"},{"b":2,"r":6,"c":59,"s":"D","g":1},{"b":2,"r":6,"c":60,"s":"G","g":1},
{"b":2,"r":6,"c":61,"s":"D"},{"b":2,"r":6,"c":62,"s":"G","g":1},{"b":2,"r":6,"c":63,"s":"T","g":1},{"b":2,"r":6,"c":64,"s":"I","g":1},{"b":2,"r":6,"c":65,"s":"D","g":1},{"b":2,"r":6,"c":66,"s":"F","g":1},{"b":2,"r":6,"c":67,"s":"P","g":1},{"b":2,"r":6,"c":68,"s":"E","g":1},{"b":2,"r":6,"c":69,"s":"F","g":1},{"b":2,"r":6,"c":70,"s":"L","g":1},
{"b":2,"r":6,"c":71,"s":"Y"},{"b":2,"r":6,"c":72,"s":"L","g":1},{"b":2,"r":6,"c":73,"s":"M","g":1},{"b":2,"r":6,"c":74,"s":"A","g":1},{"b":2,"r":6,"c":75,"s":"K","g":1},{"b":2,"r":6,"c":76,"s":"N"},{"b":2,"r":6,"c":77,"s":"Q"},{"b":2,"r":6,"c":78,"s":"G"},{"b":2,"r":6,"c":79,"s":"H"},{"b":2,"r":6,"c":80,"s":"D"},
{"b":2,"r":6,"c":81,"s":"Q"},{"b":2,"r":6,"c":82,"s":"A"},{"b":2,"r":6,"c":83,"s":"P"},{"b":2,"r":6,"c":84,"s":"R"},{"b":2,"r":6,"c":85,"s":"H"},{"b":2,"r":6,"c":86,"s":"T"},{"b":2,"r":6,"c":87,"s":"K"},{"b":2,"r":6,"c":88,"s":"K"},{"b":2,"r":6,"c":89,"s":"T"},
{"b":2,"r":1,"n":"71"},{"b":2,"r":2,"n":"84"},{"b":2,"r":3,"n":"84"},{"b":2,"r":4,"n":"84"},{"b":2,"r":5,"n":"81"},{"b":2,"r":6,"n":"178"},

{"b":3,"r":0,"c":22},{"b":3,"r":0,"c":23},{"b":3,"r":0,"c":24},{"b":3,"r":0,"c":25},{"b":3,"r":0,"c":26},{"b":3,"r":0,"c":27},{"b":3,"r":0,"c":28},{"b":3,"r":0,"c":29},{"b":3,"r":0,"c":30},{"b":3,"r":0,"c":31},{"b":3,"r":0,"c":32},{"b":3,"r":0,"c":33},
{"b":3,"r":0,"c":58},{"b":3,"r":0,"c":59},{"b":3,"r":0,"c":60},{"b":3,"r":0,"c":61},{"b":3,"r":0,"c":62},{"b":3,"r":0,"c":63},{"b":3,"r":0,"c":64},{"b":3,"r":0,"c":65},{"b":3,"r":0,"c":66},{"b":3,"r":0,"c":67},{"b":3,"r":0,"c":68},{"b":3,"r":0,"c":69},
{"b":3,"r":1,"c":1},{"b":3,"r":1,"c":2},{"b":3,"r":1,"c":3},{"b":3,"r":1,"c":4},{"b":3,"r":1,"c":5},{"b":3,"r":1,"c":6},{"b":3,"r":1,"c":7},{"b":3,"r":1,"c":8},{"b":3,"r":1,"c":9},{"b":3,"r":1,"c":10},{"b":3,"r":1,"c":11},{"b":3,"r":1,"c":12},
{"b":3,"r":1,"c":13,"s":"E","g":1},{"b":3,"r":1,"c":14,"s":"L","g":1},{"b":3,"r":1,"c":15,"s":"K","g":1},{"b":3,"r":1,"c":16,"s":"E","g":1},{"b":3,"r":1,"c":17,"s":"A","g":1},{"b":3,"r":1,"c":18,"s":"F","g":1},{"b":3,"r":1,"c":19,"s":"R","g":1},{"b":3,"r":1,"c":20,"s":"V","g":1},
{"b":3,"r":1,"c":21,"s":"F","g":1},{"b":3,"r":1,"c":22,"s":"D","g":1},{"b":3,"r":1,"c":23,"s":"K","g":1},{"b":3,"r":1,"c":24,"s":"D","g":1},{"b":3,"r":1,"c":25,"s":"Q","g":1},{"b":3,"r":1,"c":26,"s":"N","g":1},{"b":3,"r":1,"c":27,"s":"G","g":1},{"b":3,"r":1,"c":28,"s":"F","g":1},{"b":3,"r":1,"c":29,"s":"I","g":1},{"b":3,"r":1,"c":30,"s":"S","g":1},
{"b":3,"r":1,"c":31,"s":"A","g":1},{"b":3,"r":1,"c":32,"s":"A","g":1},{"b":3,"r":1,"c":33,"s":"E","g":1},{"b":3,"r":1,"c":34,"s":"L","g":1},{"b":3,"r":1,"c":35,"s":"R","g":1},{"b":3,"r":1,"c":36,"s":"H","g":1},{"b":3,"r":1,"c":37,"s":"V","g":1},{"b":3,"r":1,"c":38,"s":"M","g":1},{"b":3,"r":1,"c":39,"s":"T","g":1},{"b":3,"r":1,"c":40,"s":"N","g":1},
{"b":3,"r":1,"c":41,"s":"L","g":1},{"b":3,"r":1,"c":42,"s":"G","g":1},{"b":3,"r":1,"c":43,"s":"E","g":1},{"b":3,"r":1,"c":44,"s":"K","g":1},{"b":3,"r":1,"c":45,"s":"L","g":1},{"b":3,"r":1,"c":46,"s":"T","g":1},{"b":3,"r":1,"c":47,"s":"D","g":1},{"b":3,"r":1,"c":48,"s":"E","g":1},{"b":3,"r":1,"c":49,"s":"E","g":1},{"b":3,"r":1,"c":50,"s":"V","g":1},
{"b":3,"r":1,"c":51,"s":"E","g":1},{"b":3,"r":1,"c":52,"s":"E","g":1},{"b":3,"r":1,"c":53,"s":"M","g":1},{"b":3,"r":1,"c":54,"s":"I","g":1},{"b":3,"r":1,"c":55,"s":"R","g":1},{"b":3,"r":1,"c":56,"s":"E","g":1},{"b":3,"r":1,"c":57,"s":"A","g":1},{"b":3,"r":1,"c":58,"s":"D","g":1},{"b":3,"r":1,"c":59,"s":"V","g":1},{"b":3,"r":1,"c":60,"s":"D","g":1},
{"b":3,"r":1,"c":61,"s":"G","g":1},{"b":3,"r":1,"c":62,"s":"D","g":1},{"b":3,"r":1,"c":63,"s":"G","g":1},{"b":3,"r":1,"c":64,"s":"Q","g":1},{"b":3,"r":1,"c":65,"s":"I","g":1},{"b":3,"r":1,"c":66,"s":"N","g":1},{"b":3,"r":1,"c":67,"s":"Y","g":1},{"b":3,"r":1,"c":68,"s":"E","g":1},{"b":3,"r":1,"c":69,"s":"E","g":1},{"b":3,"r":1,"c":70,"s":"F","g":1},
{"b":3,"r":1,"c":71,"s":"V","g":1},{"b":3,"r":1,"c":72,"s":"K","g":1},{"b":3,"r":1,"c":73,"s":"I","g":1},{"b":3,"r":1,"c":74,"s":"M","g":1},{"b":3,"r":1,"c":75,"s":"M","g":1},{"b":3,"r":1,"c":76,"s":"A","g":1},{"b":3,"r":1,"c":77,"s":"K","g":1},
{"b":3,"r":1,"c":78},{"b":3,"r":1,"c":79},{"b":3,"r":1,"c":80},{"b":3,"r":1,"c":81},{"b":3,"r":1,"c":82},{"b":3,"r":1,"c":83},{"b":3,"r":1,"c":84},{"b":3,"r":1,"c":85},{"b":3,"r":1,"c":86},{"b":3,"r":1,"c":87},{"b":3,"r":1,"c":88},{"b":3,"r":1,"c":89},
{"b":3,"r":2,"c":1},{"b":3,"r":2,"c":2},{"b":3,"r":2,"c":3},{"b":3,"r":2,"c":4},{"b":3,"r":2,"c":5},{"b":3,"r":2,"c":6},{"b":3,"r":2,"c":7},{"b":3,"r":2,"c":8},{"b":3,"r":2,"c":9},{"b":3,"r":2,"c":10},{"b":3,"r":2,"c":11},{"b":3,"r":2,"c":12},
{"b":3,"r":2,"c":13,"s":"E","g":1},{"b":3,"r":2,"c":14,"s":"L","g":1},{"b":3,"r":2,"c":15,"s":"K","g":1},{"b":3,"r":2,"c":16,"s":"E","g":1},{"b":3,"r":2,"c":17,"s":"A","g":1},{"b":3,"r":2,"c":18,"s":"F","g":1},{"b":3,"r":2,"c":19,"s":"R","g":1},{"b":3,"r":2,"c":20,"s":"V","g":1},
{"b":3,"r":2,"c":21,"s":"F","g":1},{"b":3,"r":2,"c":22,"s":"D","g":1},{"b":3,"r":2,"c":23,"s":"K","g":1},{"b":3,"r":2,"c":24,"s":"D","g":1},{"b":3,"r":2,"c":25,"s":"Q","g":1},{"b":3,"r":2,"c":26,"s":"N","g":1},{"b":3,"r":2,"c":27,"s":"G","g":1},{"b":3,"r":2,"c":28,"s":"F","g":1},{"b":3,"r":2,"c":29,"s":"I","g":1},{"b":3,"r":2,"c":30,"s":"S","g":1},
{"b":3,"r":2,"c":31,"s":"A","g":1},{"b":3,"r":2,"c":32,"s":"A","g":1},{"b":3,"r":2,"c":33,"s":"E","g":1},{"b":3,"r":2,"c":34,"s":"L","g":1},{"b":3,"r":2,"c":35,"s":"R","g":1},{"b":3,"r":2,"c":36,"s":"H","g":1},{"b":3,"r":2,"c":37,"s":"V","g":1},{"b":3,"r":2,"c":38,"s":"M","g":1},{"b":3,"r":2,"c":39,"s":"T","g":1},{"b":3,"r":2,"c":40,"s":"N","g":1},
{"b":3,"r":2,"c":41,"s":"L","g":1},{"b":3,"r":2,"c":42,"s":"G","g":1},{"b":3,"r":2,"c":43,"s":"E","g":1},{"b":3,"r":2,"c":44,"s":"K","g":1},{"b":3,"r":2,"c":45,"s":"L","g":1},{"b":3,"r":2,"c":46,"s":"T","g":1},{"b":3,"r":2,"c":47,"s":"D","g":1},{"b":3,"r":2,"c":48,"s":"E","g":1},{"b":3,"r":2,"c":49,"s":"E","g":1},{"b":3,"r":2,"c":50,"s":"V","g":1},
{"b":3,"r":2,"c":51,"s":"E","g":1},{"b":3,"r":2,"c":52,"s":"E","g":1},{"b":3,"r":2,"c":53,"s":"M","g":1},{"b":3,"r":2,"c":54,"s":"I","g":1},{"b":3,"r":2,"c":55,"s":"R","g":1},{"b":3,"r":2,"c":56,"s":"E","g":1},{"b":3,"r":2,"c":57,"s":"A","g":1},{"b":3,"r":2,"c":58,"s":"D","g":1},{"b":3,"r":2,"c":59,"s":"V","g":1},{"b":3,"r":2,"c":60,"s":"D","g":1},
{"b":3,"r":2,"c":61,"s":"G","g":1},{"b":3,"r":2,"c":62,"s":"D","g":1},{"b":3,"r":2,"c":63,"s":"G","g":1},{"b":3,"r":2,"c":64,"s":"Q","g":1},{"b":3,"r":2,"c":65,"s":"I","g":1},{"b":3,"r":2,"c":66,"s":"N","g":1},{"b":3,"r":2,"c":67,"s":"H"},{"b":3,"r":2,"c":68,"s":"E","g":1},{"b":3,"r":2,"c":69,"s":"E","g":1},{"b":3,"r":2,"c":70,"s":"F","g":1},
{"b":3,"r":2,"c":71,"s":"V","g":1},{"b":3,"r":2,"c":72,"s":"K","g":1},{"b":3,"r":2,"c":73,"s":"I","g":1},{"b":3,"r":2,"c":74,"s":"M","g":1},{"b":3,"r":2,"c":75,"s":"M","g":1},{"b":3,"r":2,"c":76,"s":"A","g":1},{"b":3,"r":2,"c":77,"s":"K","g":1},
{"b":3,"r":2,"c":78},{"b":3,"r":2,"c":79},{"b":3,"r":2,"c":80},{"b":3,"r":2,"c":81},{"b":3,"r":2,"c":82},{"b":3,"r":2,"c":83},{"b":3,"r":2,"c":84},{"b":3,"r":2,"c":85},{"b":3,"r":2,"c":86},{"b":3,"r":2,"c":87},{"b":3,"r":2,"c":88},{"b":3,"r":2,"c":89},
{"b":3,"r":3,"c":1},{"b":3,"r":3,"c":2},{"b":3,"r":3,"c":3},{"b":3,"r":3,"c":4},{"b":3,"r":3,"c":5},{"b":3,"r":3,"c":6},{"b":3,"r":3,"c":7},{"b":3,"r":3,"c":8},{"b":3,"r":3,"c":9},{"b":3,"r":3,"c":10},{"b":3,"r":3,"c":11},{"b":3,"r":3,"c":12},
{"b":3,"r":3,"c":13,"s":"E","g":1},{"b":3,"r":3,"c":14,"s":"L","g":1},{"b":3,"r":3,"c":15,"s":"K","g":1},{"b":3,"r":3,"c":16,"s":"E","g":1},{"b":3,"r":3,"c":17,"s":"A","g":1},{"b":3,"r":3,"c":18,"s":"F","g":1},{"b":3,"r":3,"c":19,"s":"R","g":1},{"b":3,"r":3,"c":20,"s":"V","g":1},
{"b":3,"r":3,"c":21,"s":"F","g":1},{"b":3,"r":3,"c":22,"s":"D","g":1},{"b":3,"r":3,"c":23,"s":"K","g":1},{"b":3,"r":3,"c":24,"s":"D","g":1},{"b":3,"r":3,"c":25,"s":"Q","g":1},{"b":3,"r":3,"c":26,"s":"N","g":1},{"b":3,"r":3,"c":27,"s":"G","g":1},{"b":3,"r":3,"c":28,"s":"F","g":1},{"b":3,"r":3,"c":29,"s":"I","g":1},{"b":3,"r":3,"c":30,"s":"S","g":1},
{"b":3,"r":3,"c":31,"s":"A","g":1},{"b":3,"r":3,"c":32,"s":"A","g":1},{"b":3,"r":3,"c":33,"s":"E","g":1},{"b":3,"r":3,"c":34,"s":"L","g":1},{"b":3,"r":3,"c":35,"s":"R","g":1},{"b":3,"r":3,"c":36,"s":"H","g":1},{"b":3,"r":3,"c":37,"s":"V","g":1},{"b":3,"r":3,"c":38,"s":"M","g":1},{"b":3,"r":3,"c":39,"s":"T","g":1},{"b":3,"r":3,"c":40,"s":"N","g":1},
{"b":3,"r":3,"c":41,"s":"L","g":1},{"b":3,"r":3,"c":42,"s":"G","g":1},{"b":3,"r":3,"c":43,"s":"E","g":1},{"b":3,"r":3,"c":44,"s":"K","g":1},{"b":3,"r":3,"c":45,"s":"L","g":1},{"b":3,"r":3,"c":46,"s":"T","g":1},{"b":3,"r":3,"c":47,"s":"D","g":1},{"b":3,"r":3,"c":48,"s":"E","g":1},{"b":3,"r":3,"c":49,"s":"E","g":1},{"b":3,"r":3,"c":50,"s":"V","g":1},
{"b":3,"r":3,"c":51,"s":"D","g":1},{"b":3,"r":3,"c":52,"s":"E","g":1},{"b":3,"r":3,"c":53,"s":"M","g":1},{"b":3,"r":3,"c":54,"s":"I","g":1},{"b":3,"r":3,"c":55,"s":"K"},{"b":3,"r":3,"c":56,"s":"E","g":1},{"b":3,"r":3,"c":57,"s":"A","g":1},{"b":3,"r":3,"c":58,"s":"D","g":1},{"b":3,"r":3,"c":59,"s":"V","g":1},{"b":3,"r":3,"c":60,"s":"D","g":1},
{"b":3,"r":3,"c":61,"s":"G","g":1},{"b":3,"r":3,"c":62,"s":"D","g":1},{"b":3,"r":3,"c":63,"s":"G","g":1},{"b":3,"r":3,"c":64,"s":"Q","g":1},{"b":3,"r":3,"c":65,"s":"I","g":1},{"b":3,"r":3,"c":66,"s":"N","g":1},{"b":3,"r":3,"c":67,"s":"Y","g":1},{"b":3,"r":3,"c":68,"s":"E","g":1},{"b":3,"r":3,"c":69,"s":"E","g":1},{"b":3,"r":3,"c":70,"s":"F","g":1},
{"b":3,"r":3,"c":71,"s":"V","g":1},{"b":3,"r":3,"c":72,"s":"K","g":1},{"b":3,"r":3,"c":73,"s":"V","g":1},{"b":3,"r":3,"c":74,"s":"M","g":1},{"b":3,"r":3,"c":75,"s":"M","g":1},{"b":3,"r":3,"c":76,"s":"A","g":1},{"b":3,"r":3,"c":77,"s":"K","g":1},
{"b":3,"r":3,"c":78},{"b":3,"r":3,"c":79},{"b":3,"r":3,"c":80},{"b":3,"r":3,"c":81},{"b":3,"r":3,"c":82},{"b":3,"r":3,"c":83},{"b":3,"r":3,"c":84},{"b":3,"r":3,"c":85},{"b":3,"r":3,"c":86},{"b":3,"r":3,"c":87},{"b":3,"r":3,"c":88},{"b":3,"r":3,"c":89},
{"b":3,"r":4,"c":1},{"b":3,"r":4,"c":2},{"b":3,"r":4,"c":3},{"b":3,"r":4,"c":4},{"b":3,"r":4,"c":5},{"b":3,"r":4,"c":6},{"b":3,"r":4,"c":7},{"b":3,"r":4,"c":8},{"b":3,"r":4,"c":9},{"b":3,"r":4,"c":10},{"b":3,"r":4,"c":11},{"b":3,"r":4,"c":12},
{"b":3,"r":4,"c":13,"s":"E","g":1},{"b":3,"r":4,"c":14,"s":"L","g":1},{"b":3,"r":4,"c":15,"s":"K","g":1},{"b":3,"r":4,"c":16,"s":"E","g":1},{"b":3,"r":4,"c":17,"s":"A","g":1},{"b":3,"r":4,"c":18,"s":"F","g":1},{"b":3,"r":4,"c":19,"s":"R","g":1},{"b":3,"r":4,"c":20,"s":"V","g":1},
{"b":3,"r":4,"c":21,"s":"F","g":1},{"b":3,"r":4,"c":22,"s":"D","g":1},{"b":3,"r":4,"c":23,"s":"K","g":1},{"b":3,"r":4,"c":24,"s":"D","g":1},{"b":3,"r":4,"c":25,"s":"Q","g":1},{"b":3,"r":4,"c":26,"s":"N","g":1},{"b":3,"r":4,"c":27,"s":"G","g":1},{"b":3,"r":4,"c":28,"s":"F","g":1},{"b":3,"r":4,"c":29,"s":"I","g":1},{"b":3,"r":4,"c":30,"s":"S","g":1},
{"b":3,"r":4,"c":31,"s":"A","g":1},{"b":3,"r":4,"c":32,"s":"A","g":1},{"b":3,"r":4,"c":33,"s":"E","g":1},{"b":3,"r":4,"c":34,"s":"L","g":1},{"b":3,"r":4,"c":35,"s":"R","g":1},{"b":3,"r":4,"c":36,"s":"H","g":1},{"b":3,"r":4,"c":37,"s":"V","g":1},{"b":3,"r":4,"c":38,"s":"M","g":1},{"b":3,"r":4,"c":39,"s":"T","g":1},{"b":3,"r":4,"c":40,"s":"N","g":1},
{"b":3,"r":4,"c":41,"s":"L","g":1},{"b":3,"r":4,"c":42,"s":"G","g":1},{"b":3,"r":4,"c":43,"s":"E","g":1},{"b":3,"r":4,"c":44,"s":"K","g":1},{"b":3,"r":4,"c":45,"s":"L","g":1},{"b":3,"r":4,"c":46,"s":"S"},{"b":3,"r":4,"c":47,"s":"D","g":1},{"b":3,"r":4,"c":48,"s":"E","g":1},{"b":3,"r":4,"c":49,"s":"E","g":1},{"b":3,"r":4,"c":50,"s":"V","g":1},
{"b":3,"r":4,"c":51,"s":"D","g":1},{"b":3,"r":4,"c":52,"s":"E","g":1},{"b":3,"r":4,"c":53,"s":"M","g":1},{"b":3,"r":4,"c":54,"s":"I","g":1},{"b":3,"r":4,"c":55,"s":"R","g":1},{"b":3,"r":4,"c":56,"s":"E","g":1},{"b":3,"r":4,"c":57,"s":"A","g":1},{"b":3,"r":4,"c":58,"s":"D","g":1},{"b":3,"r":4,"c":59,"s":"V","g":1},{"b":3,"r":4,"c":60,"s":"D","g":1},
{"b":3,"r":4,"c":61,"s":"G","g":1},{"b":3,"r":4,"c":62,"s":"D","g":1},{"b":3,"r":4,"c":63,"s":"G","g":1},{"b":3,"r":4,"c":64,"s":"Q","g":1},{"b":3,"r":4,"c":65,"s":"I","g":1},{"b":3,"r":4,"c":66,"s":"N","g":1},{"b":3,"r":4,"c":67,"s":"Y","g":1},{"b":3,"r":4,"c":68,"s":"E","g":1},{"b":3,"r":4,"c":69,"s":"E","g":1},{"b":3,"r":4,"c":70,"s":"F","g":1},
{"b":3,"r":4,"c":71,"s":"V","g":1},{"b":3,"r":4,"c":72,"s":"K","g":1},{"b":3,"r":4,"c":73,"s":"V","g":1},{"b":3,"r":4,"c":74,"s":"M","g":1},{"b":3,"r":4,"c":75,"s":"M","g":1},{"b":3,"r":4,"c":76,"s":"A","g":1},{"b":3,"r":4,"c":77,"s":"K","g":1},
{"b":3,"r":4,"c":78},{"b":3,"r":4,"c":79},{"b":3,"r":4,"c":80},{"b":3,"r":4,"c":81},{"b":3,"r":4,"c":82},{"b":3,"r":4,"c":83},{"b":3,"r":4,"c":84},{"b":3,"r":4,"c":85},{"b":3,"r":4,"c":86},{"b":3,"r":4,"c":87},{"b":3,"r":4,"c":88},{"b":3,"r":4,"c":89},
{"b":3,"r":5,"c":1},{"b":3,"r":5,"c":2},{"b":3,"r":5,"c":3},{"b":3,"r":5,"c":4},{"b":3,"r":5,"c":5},{"b":3,"r":5,"c":6},{"b":3,"r":5,"c":7},{"b":3,"r":5,"c":8},{"b":3,"r":5,"c":9},{"b":3,"r":5,"c":10},{"b":3,"r":5,"c":11},{"b":3,"r":5,"c":12},
{"b":3,"r":5,"c":13,"s":"D","g":1},{"b":3,"r":5,"c":14,"s":"L","g":1},{"b":3,"r":5,"c":15,"s":"K","g":1},{"b":3,"r":5,"c":16,"s":"K"},{"b":3,"r":5,"c":17,"s":"D"},{"b":3,"r":5,"c":18,"s":"F","g":1},{"b":3,"r":5,"c":19,"s":"R","g":1},{"b":3,"r":5,"c":20,"s":"L"},
{"b":3,"r":5,"c":21,"s":"F","g":1},{"b":3,"r":5,"c":22,"s":"D","g":1},{"b":3,"r":5,"c":23,"s":"L"},{"b":3,"r":5,"c":24,"s":"D","g":1},{"b":3,"r":5,"c":25,"s":"K"},{"b":3,"r":5,"c":26,"s":"N","g":1},{"b":3,"r":5,"c":27,"s":"G","g":1},{"b":3,"r":5,"c":28,"s":"F","g":1},{"b":3,"r":5,"c":29,"s":"I","g":1},{"b":3,"r":5,"c":30,"s":"S","g":1},
{"b":3,"r":5,"c":31,"s":"A","g":1},{"b":3,"r":5,"c":32,"s":"A","g":1},{"b":3,"r":5,"c":33,"s":"E","g":1},{"b":3,"r":5,"c":34,"s":"M"},{"b":3,"r":5,"c":35,"s":"R","g":1},{"b":3,"r":5,"c":36,"s":"Y"},{"b":3,"r":5,"c":37,"s":"V","g":1},{"b":3,"r":5,"c":38,"s":"R"},{"b":3,"r":5,"c":39,"s":"T","g":1},{"b":3,"r":5,"c":40,"s":"T"},
{"b":3,"r":5,"c":41,"s":"L","g":1},{"b":3,"r":5,"c":42,"s":"R"},{"b":3,"r":5,"c":43,"s":"W"},{"b":3,"r":5,"c":44,"s":"K","g":1},{"b":3,"r":5,"c":45,"s":"Q"},{"b":3,"r":5,"c":46,"s":"T","g":1},{"b":3,"r":5,"c":47,"s":"D","g":1},{"b":3,"r":5,"c":48,"s":"E","g":1},{"b":3,"r":5,"c":49,"s":"E","g":1},{"b":3,"r":5,"c":50,"s":"I","g":1},
{"b":3,"r":5,"c":51,"s":"D","g":1},{"b":3,"r":5,"c":52,"s":"E","g":1},{"b":3,"r":5,"c":53,"s":"I"},{"b":3,"r":5,"c":54,"s":"I","g":1},{"b":3,"r":5,"c":55,"s":"K"},{"b":3,"r":5,"c":56,"s":"A"},{"b":3,"r":5,"c":57,"s":"A","g":1},{"b":3,"r":5,"c":58,"s":"D","g":1},{"b":3,"r":5,"c":59,"s":"V","g":1},{"b":3,"r":5,"c":60,"s":"D","g":1},
{"b":3,"r":5,"c":61,"s":"G","g":1},{"b":3,"r":5,"c":62,"s":"D","g":1},{"b":3,"r":5,"c":63,"s":"G","g":1},{"b":3,"r":5,"c":64,"s":"Q","g":1},{"b":3,"r":5,"c":65,"s":"I","g":1},{"b":3,"r":5,"c":66,"s":"N","g":1},{"b":3,"r":5,"c":67,"s":"Y","g":1},{"b":3,"r":5,"c":68,"s":"R"},{"b":3,"r":5,"c":69,"s":"E","g":1},{"b":3,"r":5,"c":70,"s":"F","g":1},
{"b":3,"r":5,"c":71,"s":"A"},{"b":3,"r":5,"c":72,"s":"R"},{"b":3,"r":5,"c":73,"s":"L"},{"b":3,"r":5,"c":74,"s":"M","g":1},{"b":3,"r":5,"c":75,"s":"M","g":1},{"b":3,"r":5,"c":76,"s":"A","g":1},{"b":3,"r":5,"c":77,"s":"K","g":1},{"b":3,"r":5,"c":78,"s":"N"},{"b":3,"r":5,"c":79,"s":"Q"},{"b":3,"r":5,"c":80,"s":"G"},
{"b":3,"r":5,"c":81,"s":"H"},{"b":3,"r":5,"c":82,"s":"D"},{"b":3,"r":5,"c":83,"s":"T"},{"b":3,"r":5,"c":84,"s":"K","g":2},{"b":3,"r":5,"c":85,"s":"Y"},{"b":3,"r":5,"c":86,"s":"D","g":2},{"b":3,"r":5,"c":87,"s":"T","g":2},{"b":3,"r":5,"c":88},{"b":3,"r":5,"c":89},
{"b":3,"r":6,"c":1,"s":"M"},{"b":3,"r":6,"c":2,"s":"V"},{"b":3,"r":6,"c":3,"s":"D"},{"b":3,"r":6,"c":4,"s":"Y"},{"b":3,"r":6,"c":5,"s":"Q"},{"b":3,"r":6,"c":6,"s":"L"},{"b":3,"r":6,"c":7,"s":"T"},{"b":3,"r":6,"c":8,"s":"D"},{"b":3,"r":6,"c":9,"s":"D"},{"b":3,"r":6,"c":10,"s":"Q"},
{"b":3,"r":6,"c":11,"s":"I"},{"b":3,"r":6,"c":12,"s":"L"},{"b":3,"r":6,"c":13,"s":"E","g":1},{"b":3,"r":6,"c":14,"s":"F","g":1},{"b":3,"r":6,"c":15,"s":"R"},{"b":3,"r":6,"c":16,"s":"E","g":1},{"b":3,"r":6,"c":17,"s":"A","g":1},{"b":3,"r":6,"c":18,"s":"F","g":1},{"b":3,"r":6,"c":19,"s":"R","g":1},{"b":3,"r":6,"c":20,"s":"V","g":1},
{"b":3,"r":6,"c":21,"s":"F","g":1},{"b":3,"r":6,"c":22,"s":"D","g":1},{"b":3,"r":6,"c":23,"s":"K","g":1},{"b":3,"r":6,"c":24,"s":"N"},{"b":3,"r":6,"c":25,"s":"G"},{"b":3,"r":6,"c":26,"s":"D"},{"b":3,"r":6,"c":27,"s":"G","g":1},{"b":3,"r":6,"c":28,"s":"Y","g":1},{"b":3,"r":6,"c":29,"s":"I","g":1},{"b":3,"r":6,"c":30,"s":"T"},
{"b":3,"r":6,"c":31,"s":"V"},{"b":3,"r":6,"c":32,"s":"N"},{"b":3,"r":6,"c":33,"s":"E","g":1},{"b":3,"r":6,"c":34,"s":"L","g":1},{"b":3,"r":6,"c":35,"s":"R","g":1},{"b":3,"r":6,"c":36,"s":"T"},{"b":3,"r":6,"c":37,"s":"T"},{"b":3,"r":6,"c":38,"s":"M","g":1},{"b":3,"r":6,"c":39,"s":"R"},{"b":3,"r":6,"c":40,"s":"S"},
{"b":3,"r":6,"c":41,"s":"L","g":1},{"b":3,"r":6,"c":42,"s":"G","g":1},{"b":3,"r":6,"c":43,"s":"E","g":1},{"b":3,"r":6,"c":44,"s":"T"},{"b":3,"r":6,"c":45,"s":"K"},{"b":3,"r":6,"c":46,"s":"Q"},{"b":3,"r":6,"c":47,"s":"K"},{"b":3,"r":6,"c":48,"s":"L"},{"b":3,"r":6,"c":49,"s":"E","g":1},{"b":3,"r":6,"c":50,"s":"L"},
{"b":3,"r":6,"c":51,"s":"Q"},{"b":3,"r":6,"c":52,"s":"D","g":1},{"b":3,"r":6,"c":53,"s":"M","g":1},{"b":3,"r":6,"c":54,"s":"I","g":1},{"b":3,"r":6,"c":55,"s":"N"},{"b":3,"r":6,"c":56,"s":"E","g":1},{"b":3,"r":6,"c":57,"s":"A","g":1},{"b":3,"r":6,"c":58,"s":"D","g":1},{"b":3,"r":6,"c":59,"s":"A"},{"b":3,"r":6,"c":60,"s":"D","g":1},
{"b":3,"r":6,"c":61,"s":"G","g":1},{"b":3,"r":6,"c":62,"s":"D","g":1},{"b":3,"r":6,"c":63,"s":"G","g":1},{"b":3,"r":6,"c":64,"s":"T"},{"b":3,"r":6,"c":65,"s":"I","g":1},{"b":3,"r":6,"c":66,"s":"S"},{"b":3,"r":6,"c":67,"s":"F","g":1},{"b":3,"r":6,"c":68,"s":"S"},{"b":3,"r":6,"c":69,"s":"E","g":1},{"b":3,"r":6,"c":70,"s":"F","g":1},
{"b":3,"r":6,"c":71,"s":"V","g":1},{"b":3,"r":6,"c":72,"s":"C"},{"b":3,"r":6,"c":73,"s":"V","g":1},{"b":3,"r":6,"c":74,"s":"M","g":1},{"b":3,"r":6,"c":75,"s":"T"},{"b":3,"r":6,"c":76,"s":"G"},{"b":3,"r":6,"c":77,"s":"K","g":1},{"b":3,"r":6,"c":78,"s":"M"},{"b":3,"r":6,"c":79,"s":"I"},{"b":3,"r":6,"c":80,"s":"D"},
{"b":3,"r":6,"c":81,"s":"T"},{"b":3,"r":6,"c":82,"s":"Q"},{"b":3,"r":6,"c":83,"s":"S"},{"b":3,"r":6,"c":84,"s":"K","g":3},{"b":3,"r":6,"c":85,"s":"K"},{"b":3,"r":6,"c":86,"s":"E","g":3},{"b":3,"r":6,"c":87,"s":"T","g":3},{"b":3,"r":6,"c":88,"s":"Y"},{"b":3,"r":6,"c":89,"s":"R"},
{"b":3,"r":1,"n":"136"},{"b":3,"r":2,"n":"149"},{"b":3,"r":3,"n":"149"},{"b":3,"r":4,"n":"149"},{"b":3,"r":5,"n":"156"},{"b":3,"r":6,"n":"267"},

{"b":4,"r":1,"c":1},{"b":4,"r":1,"c":2},{"b":4,"r":1,"c":3},{"b":4,"r":1,"c":4},{"b":4,"r":1,"c":5},{"b":4,"r":1,"c":6},{"b":4,"r":1,"c":7},{"b":4,"r":1,"c":8},{"b":4,"r":1,"c":9},{"b":4,"r":1,"c":10},
{"b":4,"r":1,"c":11},{"b":4,"r":1,"c":12},{"b":4,"r":1,"c":13},{"b":4,"r":1,"c":14},{"b":4,"r":1,"c":15},{"b":4,"r":1,"c":16},{"b":4,"r":1,"c":17},{"b":4,"r":1,"c":18},{"b":4,"r":1,"c":19},{"b":4,"r":1,"c":20},
{"b":4,"r":1,"c":21},{"b":4,"r":1,"c":22},{"b":4,"r":1,"c":23},{"b":4,"r":1,"c":24},{"b":4,"r":1,"c":25},{"b":4,"r":1,"c":26},{"b":4,"r":1,"c":27},{"b":4,"r":1,"c":28},{"b":4,"r":1,"c":29},{"b":4,"r":1,"c":30},
{"b":4,"r":1,"c":31},{"b":4,"r":1,"c":32},{"b":4,"r":1,"c":33},{"b":4,"r":1,"c":34},{"b":4,"r":1,"c":35},{"b":4,"r":1,"c":36},{"b":4,"r":1,"c":37},{"b":4,"r":1,"c":38},{"b":4,"r":1,"c":39},{"b":4,"r":1,"c":40},
{"b":4,"r":1,"c":41},{"b":4,"r":1,"c":42},{"b":4,"r":1,"c":43},{"b":4,"r":1,"c":44},{"b":4,"r":1,"c":45},{"b":4,"r":1,"c":46},{"b":4,"r":1,"c":47},{"b":4,"r":1,"c":48},{"b":4,"r":1,"c":49},{"b":4,"r":1,"c":50},
{"b":4,"r":1,"c":51},{"b":4,"r":1,"c":52},{"b":4,"r":1,"c":53},{"b":4,"r":1,"c":54},{"b":4,"r":1,"c":55},{"b":4,"r":1,"c":56},{"b":4,"r":1,"c":57},
{"b":4,"r":2,"c":1},{"b":4,"r":2,"c":2},{"b":4,"r":2,"c":3},{"b":4,"r":2,"c":4},{"b":4,"r":2,"c":5},{"b":4,"r":2,"c":6},{"b":4,"r":2,"c":7},{"b":4,"r":2,"c":8},{"b":4,"r":2,"c":9},{"b":4,"r":2,"c":10},
{"b":4,"r":2,"c":11},{"b":4,"r":2,"c":12},{"b":4,"r":2,"c":13},{"b":4,"r":2,"c":14},{"b":4,"r":2,"c":15},{"b":4,"r":2,"c":16},{"b":4,"r":2,"c":17},{"b":4,"r":2,"c":18},{"b":4,"r":2,"c":19},{"b":4,"r":2,"c":20},
{"b":4,"r":2,"c":21},{"b":4,"r":2,"c":22},{"b":4,"r":2,"c":23},{"b":4,"r":2,"c":24},{"b":4,"r":2,"c":25},{"b":4,"r":2,"c":26},{"b":4,"r":2,"c":27},{"b":4,"r":2,"c":28},{"b":4,"r":2,"c":29},{"b":4,"r":2,"c":30},
{"b":4,"r":2,"c":31},{"b":4,"r":2,"c":32},{"b":4,"r":2,"c":33},{"b":4,"r":2,"c":34},{"b":4,"r":2,"c":35},{"b":4,"r":2,"c":36},{"b":4,"r":2,"c":37},{"b":4,"r":2,"c":38},{"b":4,"r":2,"c":39},{"b":4,"r":2,"c":40},
{"b":4,"r":2,"c":41},{"b":4,"r":2,"c":42},{"b":4,"r":2,"c":43},{"b":4,"r":2,"c":44},{"b":4,"r":2,"c":45},{"b":4,"r":2,"c":46},{"b":4,"r":2,"c":47},{"b":4,"r":2,"c":48},{"b":4,"r":2,"c":49},{"b":4,"r":2,"c":50},
{"b":4,"r":2,"c":51},{"b":4,"r":2,"c":52},{"b":4,"r":2,"c":53},{"b":4,"r":2,"c":54},{"b":4,"r":2,"c":55},{"b":4,"r":2,"c":56},{"b":4,"r":2,"c":57},
{"b":4,"r":3,"c":1},{"b":4,"r":3,"c":2},{"b":4,"r":3,"c":3},{"b":4,"r":3,"c":4},{"b":4,"r":3,"c":5},{"b":4,"r":3,"c":6},{"b":4,"r":3,"c":7},{"b":4,"r":3,"c":8},{"b":4,"r":3,"c":9},{"b":4,"r":3,"c":10},
{"b":4,"r":3,"c":11},{"b":4,"r":3,"c":12},{"b":4,"r":3,"c":13},{"b":4,"r":3,"c":14},{"b":4,"r":3,"c":15},{"b":4,"r":3,"c":16},{"b":4,"r":3,"c":17},{"b":4,"r":3,"c":18},{"b":4,"r":3,"c":19},{"b":4,"r":3,"c":20},
{"b":4,"r":3,"c":21},{"b":4,"r":3,"c":22},{"b":4,"r":3,"c":23},{"b":4,"r":3,"c":24},{"b":4,"r":3,"c":25},{"b":4,"r":3,"c":26},{"b":4,"r":3,"c":27},{"b":4,"r":3,"c":28},{"b":4,"r":3,"c":29},{"b":4,"r":3,"c":30},
{"b":4,"r":3,"c":31},{"b":4,"r":3,"c":32},{"b":4,"r":3,"c":33},{"b":4,"r":3,"c":34},{"b":4,"r":3,"c":35},{"b":4,"r":3,"c":36},{"b":4,"r":3,"c":37},{"b":4,"r":3,"c":38},{"b":4,"r":3,"c":39},{"b":4,"r":3,"c":40},
{"b":4,"r":3,"c":41},{"b":4,"r":3,"c":42},{"b":4,"r":3,"c":43},{"b":4,"r":3,"c":44},{"b":4,"r":3,"c":45},{"b":4,"r":3,"c":46},{"b":4,"r":3,"c":47},{"b":4,"r":3,"c":48},{"b":4,"r":3,"c":49},{"b":4,"r":3,"c":50},
{"b":4,"r":3,"c":51},{"b":4,"r":3,"c":52},{"b":4,"r":3,"c":53},{"b":4,"r":3,"c":54},{"b":4,"r":3,"c":55},{"b":4,"r":3,"c":56},{"b":4,"r":3,"c":57},
{"b":4,"r":4,"c":1},{"b":4,"r":4,"c":2},{"b":4,"r":4,"c":3},{"b":4,"r":4,"c":4},{"b":4,"r":4,"c":5},{"b":4,"r":4,"c":6},{"b":4,"r":4,"c":7},{"b":4,"r":4,"c":8},{"b":4,"r":4,"c":9},{"b":4,"r":4,"c":10},
{"b":4,"r":4,"c":11},{"b":4,"r":4,"c":12},{"b":4,"r":4,"c":13},{"b":4,"r":4,"c":14},{"b":4,"r":4,"c":15},{"b":4,"r":4,"c":16},{"b":4,"r":4,"c":17},{"b":4,"r":4,"c":18},{"b":4,"r":4,"c":19},{"b":4,"r":4,"c":20},
{"b":4,"r":4,"c":21},{"b":4,"r":4,"c":22},{"b":4,"r":4,"c":23},{"b":4,"r":4,"c":24},{"b":4,"r":4,"c":25},{"b":4,"r":4,"c":26},{"b":4,"r":4,"c":27},{"b":4,"r":4,"c":28},{"b":4,"r":4,"c":29},{"b":4,"r":4,"c":30},
{"b":4,"r":4,"c":31},{"b":4,"r":4,"c":32},{"b":4,"r":4,"c":33},{"b":4,"r":4,"c":34},{"b":4,"r":4,"c":35},{"b":4,"r":4,"c":36},{"b":4,"r":4,"c":37},{"b":4,"r":4,"c":38},{"b":4,"r":4,"c":39},{"b":4,"r":4,"c":40},
{"b":4,"r":4,"c":41},{"b":4,"r":4,"c":42},{"b":4,"r":4,"c":43},{"b":4,"r":4,"c":44},{"b":4,"r":4,"c":45},{"b":4,"r":4,"c":46},{"b":4,"r":4,"c":47},{"b":4,"r":4,"c":48},{"b":4,"r":4,"c":49},{"b":4,"r":4,"c":50},
{"b":4,"r":4,"c":51},{"b":4,"r":4,"c":52},{"b":4,"r":4,"c":53},{"b":4,"r":4,"c":54},{"b":4,"r":4,"c":55},{"b":4,"r":4,"c":56},{"b":4,"r":4,"c":57},
{"b":4,"r":5,"c":1},{"b":4,"r":5,"c":2},{"b":4,"r":5,"c":3},{"b":4,"r":5,"c":4},{"b":4,"r":5,"c":5},{"b":4,"r":5,"c":6},{"b":4,"r":5,"c":7},{"b":4,"r":5,"c":8},{"b":4,"r":5,"c":9},{"b":4,"r":5,"c":10},
{"b":4,"r":5,"c":11},{"b":4,"r":5,"c":12},{"b":4,"r":5,"c":13},{"b":4,"r":5,"c":14},{"b":4,"r":5,"c":15},{"b":4,"r":5,"c":16},{"b":4,"r":5,"c":17},{"b":4,"r":5,"c":18},
{"b":4,"r":5,"c":19,"s":"T"},{"b":4,"r":5,"c":20,"s":"G","g":2},{"b":4,"r":5,"c":21,"s":"G"},{"b":4,"r":5,"c":22,"s":"T"},{"b":4,"r":5,"c":23,"s":"L"},{"b":4,"r":5,"c":24,"s":"E","g":2},{"b":4,"r":5,"c":25,"s":"R","g":2},{"b":4,"r":5,"c":26,"s":"D","g":2},{"b":4,"r":5,"c":27,"s":"L"},{"b":4,"r":5,"c":28,"s":"A","g":2},
{"b":4,"r":5,"c":29,"s":"A"},{"b":4,"r":5,"c":30,"s":"G","g":2},{"b":4,"r":5,"c":31,"s":"V","g":2},{"b":4,"r":5,"c":32,"s":"A","g":2},{"b":4,"r":5,"c":33,"s":"K"},{"b":4,"r":5,"c":34,"s":"N","g":2},{"b":4,"r":5,"c":35,"s":"I","g":2},{"b":4,"r":5,"c":36,"s":"I","g":2},{"b":4,"r":5,"c":37,"s":"A","g":2},{"b":4,"r":5,"c":38,"s":"A"},
{"b":4,"r":5,"c":39,"s":"P","g":2},{"b":4,"r":5,"c":40,"s":"M"},{"b":4,"r":5,"c":41,"s":"T"},{"b":4,"r":5,"c":42,"s":"D","g":2},{"b":4,"r":5,"c":43,"s":"F","g":2},{"b":4,"r":5,"c":44,"s":"I"},{"b":4,"r":5,"c":45,"s":"K","g":2},{"b":4,"r":5,"c":46,"s":"N"},{"b":4,"r":5,"c":47,"s":"L"},{"b":4,"r":5,"c":48,"s":"F","g":2},
{"b":4,"r":5,"c":49,"s":"E"},{"b":4,"r":5,"c":50,"s":"A"},{"b":4,"r":5,"c":51,"s":"L","g":2},{"b":4,"r":5,"c":52,"s":"F","g":2},{"b":4,"r":5,"c":53,"s":"S"},{"b":4,"r":5,"c":54},{"b":4,"r":5,"c":55},{"b":4,"r":5,"c":56},{"b":4,"r":5,"c":57},
{"b":4,"r":6,"c":1,"s":"V"},{"b":4,"r":6,"c":2,"s":"V"},{"b":4,"r":6,"c":3,"s":"N"},{"b":4,"r":6,"c":4,"s":"Q"},{"b":4,"r":6,"c":5,"s":"G"},{"b":4,"r":6,"c":6,"s":"Q"},{"b":4,"r":6,"c":7,"s":"G"},{"b":4,"r":6,"c":8,"s":"Q"},{"b":4,"r":6,"c":9,"s":"V"},{"b":4,"r":6,"c":10,"s":"Q"},
{"b":4,"r":6,"c":11,"s":"R"},{"b":4,"r":6,"c":12,"s":"H"},{"b":4,"r":6,"c":13,"s":"T"},{"b":4,"r":6,"c":14,"s":"R"},{"b":4,"r":6,"c":15,"s":"N"},{"b":4,"r":6,"c":16,"s":"D"},{"b":4,"r":6,"c":17,"s":"R"},{"b":4,"r":6,"c":18,"s":"A"},{"b":4,"r":6,"c":19,"s":"G"},{"b":4,"r":6,"c":20,"s":"G","g":3},
{"b":4,"r":6,"c":21,"s":"T"},{"b":4,"r":6,"c":22,"s":"N"},{"b":4,"r":6,"c":23,"s":"W"},{"b":4,"r":6,"c":24,"s":"E","g":3},{"b":4,"r":6,"c":25,"s":"R","g":3},{"b":4,"r":6,"c":26,"s":"D","g":3},{"b":4,"r":6,"c":27,"s":"I"},{"b":4,"r":6,"c":28,"s":"A","g":3},{"b":4,"r":6,"c":29,"s":"V"},{"b":4,"r":6,"c":30,"s":"G","g":3},
{"b":4,"r":6,"c":31,"s":"V","g":3},{"b":4,"r":6,"c":32,"s":"A","g":3},{"b":4,"r":6,"c":33,"s":"S"},{"b":4,"r":6,"c":34,"s":"N","g":3},{"b":4,"r":6,"c":35,"s":"I","g":3},{"b":4,"r":6,"c":36,"s":"I","g":3},{"b":4,"r":6,"c":37,"s":"A","g":3},{"b":4,"r":6,"c":38,"s":"S"},{"b":4,"r":6,"c":39,"s":"P","g":3},{"b":4,"r":6,"c":40,"s":"I"},
{"b":4,"r":6,"c":41,"s":"S"},{"b":4,"r":6,"c":42,"s":"D","g":3},{"b":4,"r":6,"c":43,"s":"F","g":3},{"b":4,"r":6,"c":44,"s":"M"},{"b":4,"r":6,"c":45,"s":"K","g":3},{"b":4,"r":6,"c":46,"s":"D"},{"b":4,"r":6,"c":47,"s":"R"},{"b":4,"r":6,"c":48,"s":"F","g":3},{"b":4,"r":6,"c":49,"s":"K"},{"b":4,"r":6,"c":50,"s":"D"},
{"b":4,"r":6,"c":51,"s":"L","g":3},{"b":4,"r":6,"c":52,"s":"F","g":3},{"b":4,"r":6,"c":53,"s":"E"},{"b":4,"r":6,"c":54,"s":"A"},{"b":4,"r":6,"c":55,"s":"L"},{"b":4,"r":6,"c":56,"s":"L"},{"b":4,"r":6,"c":57,"s":"S"},
{"b":4,"r":1,"n":"136"},{"b":4,"r":2,"n":"149"},{"b":4,"r":3,"n":"149"},{"b":4,"r":4,"n":"149"},{"b":4,"r":5,"n":"191"},{"b":4,"r":6,"n":"324"}
]},
"facet":{"row":{"field":"b","type":"ordinal","header":{"labels":false,"title":null}}},
"spacing":{"row":41},
"spec":{
"width":1189,
"height":75,
"encoding":{
"x":{"field":"c","type":"quantitative","scale":{"domain":[0,94],"nice":false,"zero":false},"axis":null},
"y":{"field":"r","type":"ordinal","scale":{"type":"point","domain":[0,1,2,3,4,5,6],"padding":0},"axis":{"title":null,"domain":false,"ticks":false,"grid":false,"labelOverlap":false,"minExtent":75,"maxExtent":75,"labelFont":"Liberation Serif","labelFontSize":13.5,"labelColor":"#1c1c1c","labelPadding":4,"labelExpr":"['', 'ACaM-1', 'ACaM-4', 'ACaM-2,3,5', 'ACaM-6', 'CaBP-22', 'TCH3'][datum.value]"}}
},
"layer":[
{"transform":[{"filter":"isValid(datum.s)"}],"mark":{"type":"text","font":"Liberation Mono","fontSize":11.5,"color":"#2a2a2a","baseline":"middle","align":"center"},"encoding":{"text":{"field":"s","type":"nominal"}}},
{"transform":[{"filter":"isValid(datum.c) && datum.r > 0 && !isValid(datum.s)"}],"mark":{"type":"text","font":"Liberation Mono","fontSize":11.5,"color":"#3a3a3a","baseline":"middle","align":"center"},"encoding":{"text":{"value":"-"}}},
{"transform":[{"filter":"isValid(datum.c) && datum.r == 0"}],"mark":{"type":"text","font":"Liberation Mono","fontSize":11.5,"color":"#2a2a2a","baseline":"middle","align":"center"},"encoding":{"text":{"value":"*"}}},
{"transform":[{"filter":"isValid(datum.n)"}],"mark":{"type":"text","font":"Liberation Mono","fontSize":11.5,"color":"#2a2a2a","baseline":"middle","align":"right"},"encoding":{"x":{"datum":94,"type":"quantitative"},"text":{"field":"n","type":"nominal"}}},
{"transform":[{"filter":"isValid(datum.c) && datum.r > 0"},{"window":[{"op":"lag","field":"g","as":"gu"}],"groupby":["b","c"],"sort":[{"field":"r"}]},{"filter":"(datum.g || 0) != (datum.gu || 0)"}],"mark":{"type":"rule","color":"#303030","strokeWidth":1.3,"xOffset":-6.32,"x2Offset":6.32,"yOffset":-6.25},"encoding":{"x2":{"field":"c"}}},
{"transform":[{"filter":"isValid(datum.c) && datum.r == 6 && datum.g"}],"mark":{"type":"rule","color":"#303030","strokeWidth":1.3,"xOffset":-6.32,"x2Offset":6.32,"yOffset":6.25},"encoding":{"x2":{"field":"c"}}},
{"transform":[{"filter":"isValid(datum.c) && datum.r > 0"},{"window":[{"op":"lag","field":"g","as":"gl"}],"groupby":["b","r"],"sort":[{"field":"c"}]},{"filter":"(datum.g || 0) != (datum.gl || 0)"}],"mark":{"type":"rule","color":"#303030","strokeWidth":1.3,"xOffset":-6.32,"yOffset":-6.25,"y2Offset":6.25},"encoding":{"y2":{"field":"r"}}}
]
},
"config":{"view":{"stroke":null}}
}
